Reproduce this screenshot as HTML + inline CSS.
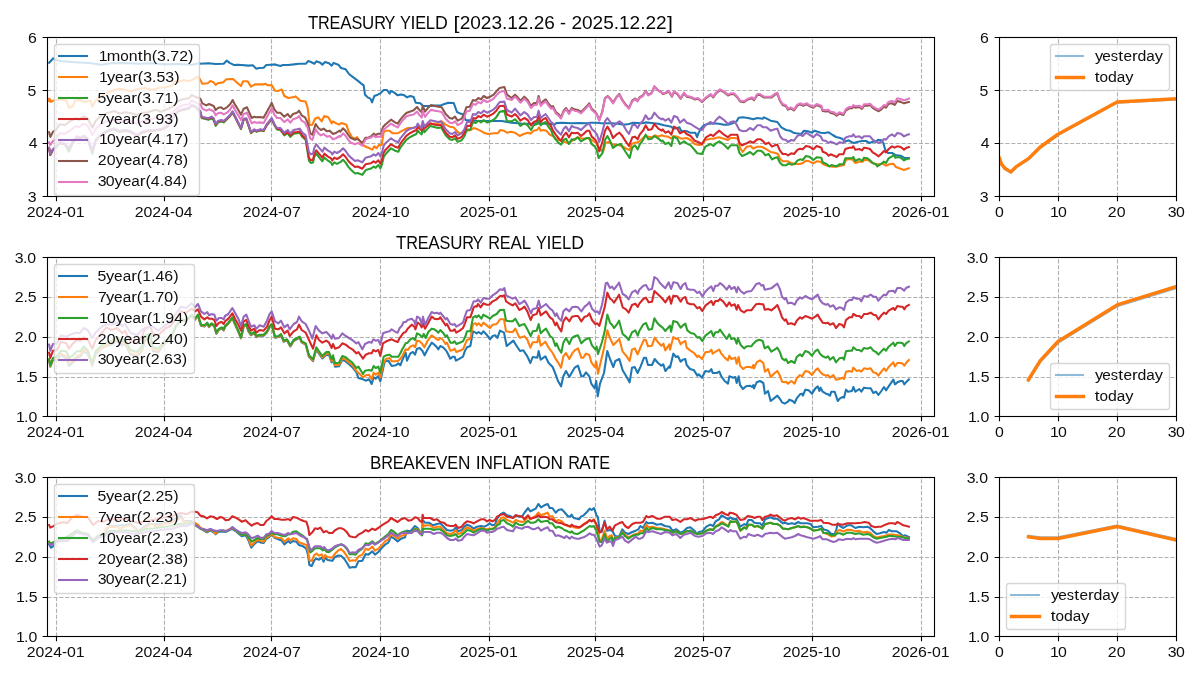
<!DOCTYPE html>
<html><head><meta charset="utf-8"><title>Treasury Yield</title>
<style>html,body{margin:0;padding:0;background:#fff}svg{display:block}</style></head>
<body>
<svg width="1200" height="675" viewBox="0 0 1200 675" font-family='"Liberation Sans", sans-serif' fill="#000">
<rect width="1200" height="675" fill="#fff"/>
<defs>
<clipPath id="cm0"><rect x="47.5" y="37.5" width="887.0" height="159.0"/></clipPath>
<clipPath id="cr0"><rect x="999.5" y="37.5" width="177.0" height="159.0"/></clipPath>
<clipPath id="cm1"><rect x="47.5" y="257.5" width="887.0" height="159.0"/></clipPath>
<clipPath id="cr1"><rect x="999.5" y="257.5" width="177.0" height="159.0"/></clipPath>
<clipPath id="cm2"><rect x="47.5" y="477.5" width="887.0" height="159.0"/></clipPath>
<clipPath id="cr2"><rect x="999.5" y="477.5" width="177.0" height="159.0"/></clipPath>
<filter id="ga" filterUnits="userSpaceOnUse" x="0" y="0" width="1200" height="675"><feOffset dx="0" dy="0"/></filter>
</defs>
<g id="main0">
<path d="M56.5 196.5V37.5M164.5 196.5V37.5M271.5 196.5V37.5M380.5 196.5V37.5M489.5 196.5V37.5M595.5 196.5V37.5M703.5 196.5V37.5M812.5 196.5V37.5M921.5 196.5V37.5M47.5 196.5H934.5M47.5 143.5H934.5M47.5 90.5H934.5M47.5 37.5H934.5" stroke="#b0b0b0" stroke-width="1.11" stroke-dasharray="4.1111 1.7778" fill="none"/>
<g clip-path="url(#cm0)" fill="none" stroke-linejoin="round" stroke-linecap="square">
<path d="M49.13 62.67 L53.27 58.27 L55.67 60 L61 60.93 L71.67 62 L85 62.67 L91.67 63.33 L101 64.67 L111.67 63.33 L125 63.07 L138.33 63.73 L151.67 63.33 L165 64.4 L178.33 64 L191.67 64.67 L199.67 63.33 L200.33 63.73 L208.33 63.33 L215.67 64 L223.67 63.73 L226.6 60.67 L229.67 62.93 L233.67 64.93 L237.67 64.67 L241.67 65.07 L248.33 65.6 L253 65.33 L256.07 68.67 L259 68 L263.67 67.73 L266.33 65.07 L271.67 64.67 L275 64.4 L280.33 66 L283 65.07 L288.33 64.93 L293.67 64.4 L299 63.73 L305.67 63.73 L308.33 61.07 L311 62 L314.33 63.73 L316.33 61.33 L320.33 62.67 L322.33 64.67 L325 62 L329 63.33 L331.67 65.6 L333.67 62.93 L338.33 64.67 L341 68 L345.67 69.33 L349 74 L352.33 76.67 L355 78.67 L357.67 80.67 L361 83.33 L363.67 85.33 L365 94.67 L367.67 97.33 L370.33 98.67 L372.07 102.4 L374.33 96 L377.67 94.67 L380.33 93.33 L383.67 90 L387 90 L389.67 93.6 L391 90.93 L394.33 92.67 L397.67 95.33 L401 94.4 L403.67 94.93 L407 97.33 L410.33 96 L413.67 97.07 L415.67 102.67 L420.33 103.33 L423 106 L429.67 106 L435 105.6 L440.33 105.6 L443.67 104.27 L448.33 102.67 L453.67 102.93 L457 112 L460.33 113.6 L463 114.4 L465.67 120 L471 120.27 L475 120.67 L488.33 121.07 L501.67 121.07 L511.67 122.67 L518.33 123.33 L522.33 123.73 L531.67 123.73 L537 123.33 L545 123.73 L551.67 124 L554.33 124.67 L556.33 122.93 L562.33 122.67 L571.67 123.33 L579.67 123.07 L587.67 123.33 L590.33 122.67 L597 122.67 L601 123.33 L611.67 123.33 L618.33 123.73 L623.67 124.67 L629 124 L633 122.67 L638.33 122.93 L642.33 123.33 L645.67 122.4 L651.67 122.93 L658.33 123.73 L664 125.33 L668 126 L671.33 126.67 L673.33 128.67 L677.33 128 L679.33 127.33 L681.33 131.33 L684.67 130.93 L687.33 131.33 L690 132.67 L695.33 132.67 L697.07 137.07 L698.67 132.67 L701.33 128 L704 125.33 L708 124 L713.33 123.33 L718.67 123.73 L724 124.67 L728 124.67 L733.33 122.93 L736.67 121.33 L738.67 117.73 L742.67 117.33 L748 118 L753.33 119.33 L757.33 118 L762.67 118.67 L764 117.33 L766.67 118.67 L770.67 120.67 L777.33 122 L781.33 127.33 L786 130 L790 130.67 L793.33 132.67 L796 133.33 L801.33 134 L804 130.67 L808 131.33 L812 132.67 L814.67 130.67 L820.67 132.73 L824.67 133 L828.67 132.33 L832.67 135 L836 137 L839.33 137.67 L842.67 139 L844.67 141.67 L848.67 140.33 L852 142.33 L854 143 L858 141.67 L862 141 L866 141 L869.33 143 L872.67 141.67 L876 141.67 L878 139.67 L881.33 140.33 L883.33 143 L885.33 150.33 L888 153 L892 153 L895.33 155 L900.67 155.67 L904.67 158.07 L908.88 158.07" stroke="#1f77b4" stroke-width="2.08"/>
<path d="M49.13 98.67 L49.13 101.33 L50.07 99.33 L51 102 L53 100.67 L57 100 L61 99.33 L66.33 100.67 L69 108 L73 106 L75 100.67 L79.67 100 L85 102 L90.33 100.67 L92.33 106.67 L95.67 100.67 L101 96.67 L107.67 92.67 L114.33 90 L119.67 88.67 L125 90 L131.67 91.33 L138.33 88.67 L145 88 L151.67 90 L158.33 88 L165 87.33 L171.67 86 L175 81.33 L178.33 82 L183.67 80 L189 81.33 L194.33 78.67 L197.67 76.67 L199.67 78.67 L200.33 80 L202.33 83.73 L207.67 83.33 L210.33 81.07 L213.67 82.4 L215.67 84.93 L218.33 82.93 L223 82.4 L226.33 79.33 L233 79.07 L236.33 82 L241 86 L243 81.33 L247.67 81.33 L251 86.67 L255 84.4 L263 84.4 L265.67 83.73 L267.67 85.33 L271.67 85.07 L275 90.67 L278.33 90.93 L281.67 89.33 L284.33 96 L288.33 98 L292.33 97.33 L295.67 96.4 L300.33 100.67 L305.67 101.6 L307.67 108 L309.67 125.07 L312.33 124.67 L315 118.67 L318.33 117.33 L321.67 121.33 L324.33 116 L328.33 117.33 L331.67 123.33 L333 121.33 L336.33 123.33 L339 124.67 L341.67 122.93 L346.33 124.67 L348.33 130.67 L352.33 137.67 L355 138.33 L357 137 L359.67 141 L363 145 L366.33 147 L369.67 148.33 L372.33 149.67 L374.33 146.33 L376.33 148.33 L379 145 L381.67 145 L383.67 132 L386.33 130.67 L389.67 130.67 L392.33 133.33 L397.67 133.33 L401 131.33 L405 129.33 L408.33 128 L413.67 127.73 L417 126.67 L421.67 126.67 L427 124.67 L432.33 124 L437.67 123.33 L441.67 121.33 L445.67 124.67 L449.67 126.67 L453.67 127.33 L457.67 132 L460.33 133.33 L463.67 132 L466.33 130.67 L471 130 L473.67 128 L477.67 129.33 L481.67 131.33 L485 133.33 L488.33 134 L493.67 133.33 L497.67 133.33 L500.33 130 L503.67 130.67 L507 132.67 L511 131.73 L515 132.67 L519.67 136 L523.67 134 L527.67 132.67 L530.33 133.6 L533.67 130.67 L537 130 L539 127.33 L540.73 130.67 L543.67 130 L546.33 130.67 L549.67 134.67 L553 136 L555.67 138.67 L561 140.67 L565 142 L569 143.33 L573 140 L577.67 137.33 L582.33 138.67 L587.67 138 L591.67 140 L595.67 142.67 L599.27 148 L603 152 L605.67 142.67 L608.33 142 L613 144.67 L616.33 144.67 L619.67 145.33 L623 146.67 L626.33 148.67 L629.67 150 L631.67 144 L635 142.67 L638.33 142 L641 140 L645 136 L648.33 136.67 L651.67 137.33 L655 135.33 L658.33 136.67 L661.67 135.33 L664 136 L668 136.67 L671.33 138.67 L673.33 136 L677.33 136.67 L681.33 138.67 L686.67 138 L690.67 140 L694.67 144 L698.67 145.07 L702 144.67 L705.33 140 L710.67 138.67 L713.33 138.67 L718.67 137.33 L724 138.67 L728 140 L730.67 138 L734.67 138 L738 138.67 L740 148 L742.67 152 L746.67 146.67 L750.67 146 L753.33 148.67 L757.33 146.67 L761.33 146.67 L764 148 L766.67 149.33 L770.67 152 L774.67 152.67 L778 154 L780 158.67 L782.67 161.33 L788 161.33 L792 163.33 L796 164 L800 164 L803.33 162.67 L806 160.67 L809.33 161.33 L813.33 163.33 L816.67 161.33 L820.67 161.67 L823.33 164.33 L827.33 165.67 L831.33 166.6 L836.67 166.6 L840.67 165.67 L844 165 L846 159.67 L850 159 L852.67 159.67 L855.33 163 L859.33 161.67 L862.67 161.67 L864.67 159.67 L868.67 160.33 L871.33 162.33 L875.33 164.33 L879.33 164.33 L882.67 163.67 L886 165.67 L889.33 164.33 L893.33 163.67 L896 167 L899.33 168.33 L904 170.07 L906.67 169 L908.88 168.33" stroke="#ff7f0e" stroke-width="2.08"/>
<path d="M49.13 148.39 L50.33 155.09 L53 149.81 L55.67 147.85 L59.67 143.26 L65 144.69 L69 151.67 L73 142.07 L77 137.4 L80.33 138.73 L83.67 136.73 L87.67 139.4 L92.33 153.67 L95.67 140.73 L101 135.38 L107.67 131.37 L114.33 129.35 L119.67 132.01 L125 130.66 L130.33 131.98 L137 135.96 L142.33 132.62 L147.67 131.27 L155.67 130.59 L161 129.91 L167.67 126.56 L173 117.88 L178.33 111.2 L183.67 109.85 L189 108.51 L191.67 105.83 L195.67 107.16 L199.67 111.15 L200.33 112.61 L201.67 118 L208.33 119.87 L211.67 118.4 L213.67 120.08 L215.67 125.83 L218.33 122.33 L221.67 121.47 L223.67 122.41 L227 119.15 L230.33 115.73 L232.6 112.4 L235 117.07 L238.33 123.73 L241 129.07 L243.67 119.73 L246.33 119.33 L251 133.07 L254.33 130.4 L256.33 131.73 L260.33 130.4 L263.67 131.07 L267 125.07 L269.67 121.73 L271.67 119.07 L274.33 125.07 L277 129.41 L280.33 129.97 L284.33 135.32 L287.67 133.22 L290.33 136.8 L293.67 133.69 L297 133.24 L299.67 132.76 L302.33 136.93 L305.67 139.82 L309 160.78 L311 163 L313 162.5 L314.33 156.62 L316.33 153.46 L319 157.02 L322.33 161.3 L324.33 157.48 L327.67 160.43 L331 162.71 L332.33 164.83 L334.33 162.33 L337 163.9 L340.33 162.18 L343 159.74 L345.67 162.64 L348.33 166.87 L351 169.76 L355 173.44 L357.67 173 L362.33 174.86 L365.67 170.1 L368.33 169.35 L371 168.61 L373.67 166.53 L375.67 167.8 L378.33 165.06 L380.33 168.33 L381.67 165.42 L383.67 157.04 L385.67 154 L391 148.33 L395 150.69 L398.33 151.77 L400.33 147.62 L403.67 143.36 L406.33 139.82 L409.67 137.4 L413.67 135.27 L416.33 134.07 L417.67 130.47 L419.67 132.73 L421.67 134.33 L422.73 126.95 L424.33 132.2 L427 129.4 L430.33 125.9 L435 127.33 L438.33 128 L441 127.33 L445.67 135.33 L449.67 139.33 L452.33 140 L455 138.26 L457.67 141.85 L461.67 140.24 L464.33 136.49 L467 129.42 L470.33 129.74 L473 122 L475.67 123.01 L478.33 120.7 L481 122.38 L483.67 120.06 L487 122.49 L490.33 121.46 L493.67 119.67 L496.33 117.17 L499.67 111.87 L504.33 110.67 L507 121.33 L511.67 121.33 L515 119.33 L517.67 122 L520.33 126 L524.33 123.33 L527.67 125.33 L531 130 L533.67 125.33 L537 124 L538.6 120.67 L540.73 125.33 L543 123.33 L545.67 122 L548.33 126.67 L551 130 L553 135.33 L555.67 139.33 L558.33 142.67 L561 144.67 L563.67 140 L566.07 138.67 L569 144 L571.67 139.33 L574.33 140 L577.67 137.33 L581 141.33 L584.33 139.33 L587 138 L589.27 138 L591.67 144 L595 146.67 L597 150.67 L598.6 158 L602.33 153.33 L605 140 L607.4 136 L610.33 141.33 L613 148 L616.33 145.33 L621 144 L622.33 146.67 L625.67 152 L629.67 158 L632.33 147.33 L635 145.33 L637.67 149.33 L639.67 144.67 L643 140 L645.67 134.67 L648.33 139.33 L651.67 138.67 L654.33 136 L658.33 138.67 L661.67 141.33 L662.67 140.67 L665.33 144 L668.67 142.67 L671.33 146 L673.33 136.67 L677.33 138.67 L680 144 L684 141.33 L686.67 143.33 L690.67 145.33 L694.67 150 L697.33 153.33 L702 154 L705.33 146.67 L710.67 144 L713.33 146 L716 143.33 L719.33 141.33 L724 144.67 L728 148.67 L730.67 145.33 L734 145.33 L737.33 145.33 L739.33 152.67 L742 156 L746.67 154 L750 152 L753.33 154.67 L757.33 150.67 L760.67 150.67 L763.33 152.67 L765.33 155.33 L768.67 154 L772 159.33 L774.67 158 L777.33 157.33 L780 162.67 L782.67 165.33 L786 165.33 L788.67 163.33 L791.33 164.67 L794.67 164 L797.33 160.67 L800 159.33 L802.67 160 L806 156 L809.33 156.67 L813.33 160 L816.67 157.33 L821.33 157.67 L822.67 162.33 L826 163.67 L829.33 166.33 L831.33 165 L834 165.67 L836.67 166.33 L839.33 164.33 L843.33 164.33 L845.33 158.33 L849.33 158.33 L852 158.33 L853.33 157 L855.33 161 L859.33 159 L862 161 L864 157.67 L867.33 158.33 L870 160.33 L872.67 163 L876 164.33 L877.33 166.33 L881.33 163.67 L884 161.67 L886 163 L888.67 158.33 L892 156.33 L894 155 L895.33 157.67 L898 157 L900.67 157.67 L904 160.33 L906.67 159 L908.88 158.6" stroke="#2ca02c" stroke-width="2.08"/>
<path d="M49.13 148.2 L50.33 154.87 L53 149.53 L55.67 147.53 L59.67 142.87 L65 144.2 L69 148.2 L73 141.53 L77 136.87 L80.33 138.2 L83.67 136.2 L87.67 138.87 L92.33 150.87 L95.67 140.2 L101 134.87 L107.67 130.87 L114.33 128.87 L119.67 131.53 L125 130.2 L130.33 131.53 L137 135.53 L142.33 132.2 L147.67 130.87 L155.67 130.2 L161 129.53 L167.67 126.2 L173 117.53 L178.33 110.87 L183.67 109.53 L189 108.2 L191.67 105.53 L195.67 106.87 L199.67 110.87 L200.33 111.87 L201.67 117.2 L208.33 118.8 L211.67 117.2 L213.67 118.8 L215.67 124.53 L218.33 121.2 L221.67 120.53 L223.67 121.6 L227 118.53 L230.33 115.2 L232.6 111.87 L235 116.53 L238.33 123.2 L241 128.53 L243.67 119.2 L246.33 118.8 L251 132.53 L254.33 129.87 L256.33 131.2 L260.33 129.87 L263.67 130.53 L267 124.53 L269.67 121.2 L271.67 118.53 L274.33 124.53 L277 128.75 L280.33 129.12 L284.33 134.23 L287.67 131.93 L290.33 135.47 L293.67 132.36 L297 131.91 L299.67 131.42 L302.33 135.6 L305.67 138.49 L309 158.19 L311 160.33 L313 159.67 L314.33 153.67 L316.33 150.33 L319 153.67 L322.33 157.67 L324.33 153.67 L327.67 156.33 L331 158.33 L332.33 160.33 L334.33 157.67 L337 159 L340.33 157 L343 154.33 L345.67 157 L348.33 161 L351 163.67 L355 167 L357.67 166.47 L362.33 168.72 L365.67 164.23 L368.33 163.7 L371 163.18 L373.67 161.32 L375.67 162.75 L378.33 160.23 L380.33 163.67 L381.67 160.83 L383.67 152.58 L385.67 149.67 L391 144.33 L395 146.69 L398.33 147.77 L400.33 143.62 L403.67 139.36 L406.33 135.82 L409.67 133.4 L413.67 131.27 L416.33 130.07 L417.67 126.47 L419.67 128.73 L421.67 130.33 L422.73 123.11 L424.33 128.6 L427 126.2 L430.33 123.2 L435 124.67 L438.33 125.33 L441 124.67 L445.67 132.67 L449.67 136.67 L452.33 137.33 L455 135.42 L457.67 138.84 L461.67 136.97 L464.33 133.05 L467 125.81 L470.33 125.91 L473 118 L475.67 118.67 L478.33 116 L481 117.33 L483.67 114.67 L487 116.67 L490.33 115.33 L493.67 113.33 L496.33 110.67 L499.67 106 L504.33 105.87 L507 114.53 L511.67 116.67 L515 114 L517.67 116.67 L520.33 120.67 L524.33 118 L527.67 120 L531 125.33 L533.67 122 L537 120.67 L538.6 116 L540.73 122 L543 119.33 L545.67 118 L548.33 122.67 L551 126 L553 130.67 L555.67 134.67 L558.33 138 L561 140.67 L563.67 135.33 L566.07 132.67 L569 137.33 L571.67 132.67 L574.33 133.33 L577.67 132.67 L581 136 L584.33 133.33 L587 130.67 L589.27 130.67 L591.67 136.67 L595 139.33 L597 142.67 L599.27 151.33 L602.33 142 L605 130.67 L607.4 126.67 L610.33 131.33 L613 138 L616.33 134.67 L619.4 132.67 L622.33 136 L625.67 141.33 L629 146 L632.33 137.33 L635 136.67 L637.67 139.33 L639.67 134.67 L643 130.67 L645.67 125.33 L648.33 130 L651.67 129.33 L654.33 124 L658.33 128.67 L661.67 130.67 L662.67 129.33 L665.33 132.67 L668.67 131.33 L671.33 134.67 L674 126.67 L677.33 128.67 L680 133.33 L684 131.33 L686.67 134 L690.67 136 L694.67 140.67 L698 142 L702 144 L706 137.33 L710.67 134.67 L713.33 136 L716 133.33 L719.33 130.67 L724 134.67 L728 137.33 L730.67 134.67 L734 134.67 L737.33 134.67 L739.33 142.67 L742 145.33 L746.67 143.33 L750 141.33 L753.33 142.67 L757.33 139.33 L760.67 139.33 L763.33 141.33 L765.33 144 L768.67 142.67 L772 146.67 L774.67 145.33 L777.33 144.67 L780 150.67 L782.67 154 L786 154 L788 155.33 L791.33 153.33 L794 154 L797.33 150 L800 148.67 L802.67 149.33 L806 146 L809.33 146.67 L813.33 149.33 L816.67 146 L821.33 147.67 L822.67 151.67 L826 153 L828.67 155.67 L830.67 154.33 L834 155.67 L836.67 157 L839.33 154.33 L843.33 154.33 L845.33 149 L849.33 147.67 L852 147.67 L853.33 146.33 L855.33 149.67 L859.33 149 L862 150.33 L864 147.67 L867.33 148.33 L870 149 L872.67 152.33 L876 154.33 L878.67 156.33 L881.33 153.67 L884 151 L886 152.33 L888.67 149 L892 146.33 L894.67 147.67 L897.33 146.33 L900.67 147 L904 149.67 L906.67 147.67 L908.88 147" stroke="#d62728" stroke-width="2.08"/>
<path d="M49.13 147.67 L50.33 154.33 L53 149 L55.67 147 L59.67 142.33 L65 143.67 L69 147.67 L73 141 L77 136.33 L80.33 137.67 L83.67 135.67 L87.67 138.33 L92.33 150.33 L95.67 139.67 L101 134.33 L107.67 130.33 L114.33 128.33 L119.67 131 L125 129.67 L130.33 131 L137 135 L142.33 131.67 L147.67 130.33 L155.67 129.67 L161 129 L167.67 125.67 L173 117 L178.33 110.33 L183.67 109 L189 107.67 L191.67 105 L195.67 106.33 L199.67 110.33 L200.33 111.33 L201.67 116.67 L208.33 118.27 L211.67 116.67 L213.67 118.27 L215.67 124 L218.33 120.67 L221.67 120 L223.67 121.07 L227 118 L230.33 114.67 L232.6 111.33 L235 116 L238.33 122.67 L241 128 L243.67 118.67 L246.33 118.27 L251 132 L254.33 129.33 L256.33 130.67 L260.33 129.33 L263.67 130 L267 124 L269.67 120.67 L271.67 118 L274.33 124 L277 128 L280.33 128 L284.33 132.67 L287.67 130 L290.33 133.33 L293.67 130 L297 129.33 L299.67 128.67 L302.33 132.67 L305.67 135.33 L309 152.33 L311 154.33 L313 153.67 L314.33 147.67 L316.33 144.33 L319 147.67 L322.33 151.67 L324.33 147.67 L327.67 150.33 L331 152.33 L332.33 154.33 L334.33 151.67 L337 153 L340.33 151 L343 148.33 L345.67 151 L348.33 155 L351 157.67 L355 161 L357.67 160.33 L362.33 162.33 L365.67 157.67 L368.33 157 L371 156.33 L373.67 154.33 L375.67 155.67 L378.33 153 L380.33 156.33 L381.67 153.67 L383.67 145.67 L385.67 143 L391 138.33 L395 141 L398.33 142.33 L400.33 138.33 L403.67 134.33 L406.33 131 L409.67 129 L413.67 127.67 L416.33 127 L417.67 123.67 L419.67 126.33 L421.67 128.33 L422.73 121 L424.33 126.33 L427 123.67 L430.33 120.33 L435 121.33 L438.33 122 L441 121.33 L445.67 129.33 L449.67 133.33 L452.33 134 L455 132 L457.67 135.33 L461.67 133.33 L464.33 129.33 L467 122 L470.33 122 L473 114 L475.67 114.67 L478.33 112 L481 113.33 L483.67 110.67 L487 112.67 L490.33 111.33 L493.67 109.33 L496.33 106.67 L499.67 102 L504.33 101.6 L507 110 L511.67 112.67 L515 108.67 L517.67 112 L520.33 115.33 L524.33 112 L527.67 114.67 L531 120 L533.67 117.33 L537 116.67 L538.6 110.67 L540.73 118 L543 116 L545.67 114 L548.33 118 L551 122 L553 123.33 L555.67 129.33 L558.33 132 L561 134.67 L563.67 128.67 L566.07 126.67 L569 131.33 L571.67 126 L574.33 127.33 L577.67 128 L581 130 L584.33 126.67 L587 124.67 L589.27 123.33 L591.67 128.67 L595 132 L597 134.67 L599.27 142 L602.33 132 L605 121.33 L607.4 118 L610.33 122 L613 126.67 L616.33 123.33 L619.4 121.33 L622.33 123.33 L625.67 129.33 L629 134 L632.33 125.33 L635 124.67 L637.67 128 L639.67 124 L643 120.67 L645.67 115.33 L648.33 119.33 L651.67 118 L654.33 112.67 L658.33 117.33 L661.67 119.33 L662.67 118.67 L665.33 120.67 L668.67 118.67 L671.33 122.67 L674 116 L677.33 117.33 L680 122.67 L684 119.33 L686.67 122.67 L690.67 124 L694.67 126.67 L698 128.67 L702 130 L706 124.67 L710.67 122 L713.33 124 L716 120 L719.33 116.67 L724 120 L728 124 L730.67 122 L734 121.33 L736.67 124.67 L739.33 130 L743.33 131.33 L746.67 130.67 L750 128 L753.33 130 L757.33 125.33 L760.67 125.33 L763.33 127.33 L766.67 127.33 L770.67 130.67 L774.67 129.33 L777.33 128.67 L780 136 L782.67 139.33 L786 140 L788 142 L791.33 140 L794 140.67 L797.33 136 L800 134.67 L802.67 136 L806 132.67 L809.33 134.67 L813.33 137.33 L816.67 134 L820.67 136.33 L822.67 140.33 L826 141 L828.67 143 L830.67 141.67 L834 143 L836.67 144.33 L839.33 142.33 L843.33 143 L845.33 137.67 L849.33 136.33 L852 136.33 L853.33 134.33 L855.33 137 L859.33 136.33 L862 138.33 L864 136.33 L867.33 136.33 L870 136.33 L872.67 139.67 L876 141.67 L878.67 143 L881.33 141.67 L884 139 L886 139.67 L888.67 136.33 L892 134.33 L894.67 136.33 L897.33 133 L900.67 133.67 L904 136.33 L906.67 135 L908.88 134.33" stroke="#9467bd" stroke-width="2.08"/>
<path d="M49.13 132.33 L50.33 137 L53 131.67 L55.67 130.33 L59.67 124.33 L65 125 L70.33 121 L75.67 118.33 L79.67 119.67 L83.67 116.33 L87.67 118.33 L92.33 127.67 L95.67 121 L101 115.67 L107.67 113 L114.33 111 L119.67 113.67 L125 112.33 L130.33 113 L137 115 L142.33 113 L147.67 112.33 L155.67 109.67 L161 111.67 L167.67 109 L173 106.33 L178.33 101 L183.67 99 L189 98.33 L191.67 95 L195.67 97 L199.67 98.33 L200.33 98.67 L202.33 103.33 L206.33 105.33 L209 104 L213.67 106 L215.67 110 L218.33 107.73 L221 107.33 L223.67 109.07 L227 107.33 L230.33 104 L232.6 100 L235 104.67 L238.33 110 L241 114.67 L243.67 108.67 L247 107.33 L251.67 118 L254.33 116.67 L256.33 117.33 L259.67 117.07 L263.67 117.6 L266.33 112.67 L269.67 106.67 L271.67 102.93 L274.33 109.33 L277 112.67 L280.33 112.67 L284.33 116.67 L287.67 114 L290.33 117.33 L293 114 L297 112.67 L299 110.67 L301.67 115.33 L305 117.33 L307.67 122.67 L310.33 133.33 L312.33 134.67 L315.67 124 L318.33 128 L321 130 L323.67 128.67 L327 131.33 L329.67 130.67 L333 134 L336.33 132.67 L339.67 130.67 L340.33 131.67 L343 128.33 L345.67 131 L348.33 135 L350.33 137.67 L355 139.67 L357.67 139 L362.33 143 L365.67 137.67 L368.33 137.67 L371 136.33 L373.67 133.67 L375.67 135 L378.33 133.67 L381 133.67 L383 127 L385.67 124.33 L391 119.67 L395 122.33 L397.67 123.67 L400.33 119.67 L403.67 115.67 L406.33 113 L409.67 111.67 L413.67 110.33 L417 107 L419.67 110.33 L421.67 112.33 L422.73 105.67 L425 111.67 L427.67 108.33 L431 105 L435 106 L438.33 106.67 L441.67 107.33 L445.67 114 L449.67 118 L452.33 118.67 L455 116.67 L457.67 120.67 L461.67 118.67 L464.33 113.33 L466.33 107.33 L469.67 106.67 L473 100 L475.67 100.67 L478.33 98 L481 99.33 L483.67 96 L487 98 L490.33 96.67 L493.67 94.67 L496.33 91.33 L499.67 88 L504.33 86.93 L507 94.67 L511.67 98 L515 94.67 L517.67 97.33 L520.33 100.67 L524.33 96.67 L527.67 100 L531 106 L533.67 103.33 L537 102.67 L538.6 96 L540.73 104 L543 101.33 L545.67 99.33 L548.33 103.33 L551 106.67 L553 106.13 L555.67 111.73 L558.33 114 L561 117.33 L563.67 110.67 L566.07 108 L569 112.67 L571.67 108 L574.33 109.33 L577.67 110 L581 112 L584.33 108.67 L587 106 L589.27 103.33 L591.67 108.67 L595 111.67 L597 114.53 L599.27 120 L602.33 111.32 L605 97.98 L607.67 95.97 L610.33 98.63 L613 102.62 L616.33 97.27 L619.4 93.93 L622.33 99.92 L625.67 104.58 L629 107.9 L632.33 100.55 L635 98.54 L637.67 100.54 L639.67 97.24 L643 95.34 L645.67 90.75 L648.33 94.83 L651.67 92.93 L654.33 86.35 L658.33 90.47 L661.67 92.57 L662.67 94 L665.33 93.34 L668.67 91.35 L672 96.69 L674 92.02 L677.33 94.03 L680.67 98.7 L684 93.37 L686.67 96.71 L690.67 97.38 L694.67 99.39 L698 98.73 L702 102.07 L706 98.08 L710.67 94.75 L713.33 97.42 L716 93.43 L720 90.1 L724 92.11 L728 95.45 L730.67 94.12 L734 94.12 L737.33 97.46 L740 101.47 L744 102.15 L748 99.49 L752 98.17 L754 100.18 L757.33 94.86 L760 94.87 L764 97.55 L768 97.56 L771.33 97.57 L774.67 94.92 L777.33 93.59 L780 100.93 L782.67 104.94 L786 106.29 L788 109.63 L790.67 108.3 L794 110.31 L797.33 105.66 L800 104.33 L803.33 105.68 L806.67 104.36 L810 106.37 L813.33 107.71 L816.67 105.06 L821.33 106.92 L822.67 110.92 L826 111.59 L828 110.93 L830.67 112.93 L834 113.61 L836.67 115.61 L839.33 113.62 L843.33 114.96 L846 110.29 L849.33 108.3 L852 108.3 L853.33 106.31 L855.33 107.64 L859.33 106.98 L862 108.99 L864 105.66 L867.33 105.66 L870 105 L872.67 107.75 L876 109.85 L878.67 111.26 L881.33 109.34 L884 106.78 L886 107.59 L888.67 103.77 L892 103.34 L894.67 104.86 L897.33 101.03 L900.67 101.87 L904 103.37 L906.67 102.58 L908.88 101.93" stroke="#8c564b" stroke-width="2.08"/>
<path d="M49.13 142.33 L50.33 145 L53 141 L55.67 139.67 L59.67 133 L65 133.67 L70.33 130.33 L75.67 126.33 L79.67 127 L83.67 123.67 L87.67 125.67 L92.33 135 L95.67 129 L101 123.67 L107.67 121 L114.33 119.67 L119.67 121.67 L125 120.33 L130.33 121.67 L137 123.67 L142.33 121 L147.67 120.33 L155.67 117.67 L161 119 L167.67 116.33 L173 112.33 L178.33 107 L183.67 105 L189 104.33 L191.67 100.33 L195.67 102.33 L199.67 105 L200.33 104 L202.33 108.67 L206.33 110.67 L209 109.33 L213.67 111.33 L215.67 115.33 L218.33 113.07 L221 112.67 L223.67 114.4 L227 112.67 L230.33 109.33 L232.6 105.33 L235 110 L238.33 115.33 L241 120 L243.67 114 L247 112.67 L251.67 123.33 L254.33 122 L256.33 122.67 L259.67 122.4 L263.67 122.93 L266.33 118 L269.67 112 L271.67 108.27 L274.33 114.67 L277 118 L280.33 118 L284.33 122 L287.67 119.33 L290.33 122.67 L293 119.33 L297 118 L299 116 L301.67 120.67 L305 122.67 L307.67 128 L310.33 138.67 L312.33 140 L315.67 129.33 L318.33 133.33 L321 135.33 L323.67 134 L327 136.67 L329.67 136 L333 139.33 L336.33 138 L339.67 136 L340.33 136.78 L343 133.36 L345.67 135.95 L348.33 139.87 L350.33 142.47 L355 144.33 L357.67 142.94 L362.33 145.67 L365.67 139.22 L368.33 138.33 L371 137.59 L373.67 135.52 L375.67 137.3 L378.33 136.56 L381 137.04 L383 130.5 L385.67 128 L391 123.67 L395 126.18 L397.67 127.41 L400.33 123.31 L403.67 119.18 L406.33 116.41 L409.67 115.2 L413.67 114.47 L417 111.63 L419.67 115.37 L421.67 117.67 L422.73 110.95 L425 116.83 L427.67 113.37 L431 109.87 L435 110.67 L438.33 111.33 L441.67 112 L445.67 118.67 L449.67 122.67 L452.33 123.33 L455 121.25 L457.67 125.16 L461.67 123.03 L464.33 117.61 L466.33 111.55 L469.67 110.77 L473 104 L475.67 104.67 L478.33 102 L481 103.33 L483.67 100 L487 102 L490.33 100.67 L493.67 98.67 L496.33 95.33 L499.67 92 L504.33 90.93 L507 98.67 L511.67 100 L515 96.67 L517.67 99.33 L520.33 102.67 L524.33 98.67 L527.67 102 L531 108 L533.67 105.33 L537 104.67 L538.6 98 L540.73 106 L543 103.33 L545.67 101.33 L548.33 105.33 L551 108.67 L553 108 L555.67 113.33 L558.33 115.33 L561 118.67 L563.67 112 L566.07 109.33 L569 114 L571.67 109.33 L574.33 110.67 L577.67 111.33 L581 113.33 L584.33 110 L587 107.33 L589.27 104.67 L591.67 110 L595 112.67 L597 115.33 L599.27 120.67 L602.33 112 L605 98.67 L607.67 96.67 L610.33 99.33 L613 103.33 L616.33 98 L619.4 94.67 L622.33 100.67 L625.67 105.33 L629 108.67 L632.33 101.33 L635 99.33 L637.67 101.33 L639.67 98 L643 96 L645.67 91.33 L648.33 95.33 L651.67 93.33 L654.33 86.67 L658.33 90.67 L661.67 92.67 L662.67 93.33 L665.33 92.67 L668.67 90.67 L672 96 L674 91.33 L677.33 93.33 L680.67 98 L684 92.67 L686.67 96 L690.67 96.67 L694.67 98.67 L698 98 L702 101.33 L706 97.33 L710.67 94 L713.33 96.67 L716 92.67 L720 89.33 L724 91.33 L728 94.67 L730.67 93.33 L734 93.33 L737.33 96.67 L740 100.67 L744 101.33 L748 98.67 L752 97.33 L754 99.33 L757.33 94 L760 94 L764 96.67 L768 96.67 L771.33 96.67 L774.67 94 L777.33 92.67 L780 100 L782.67 104 L786 105.33 L788 108.67 L790.67 107.33 L794 109.33 L797.33 104.67 L800 103.33 L803.33 104.67 L806.67 103.33 L810 105.33 L813.33 106.67 L816.67 104 L821.33 105.67 L822.67 109.67 L826 110.33 L828 109.67 L830.67 111.67 L834 112.33 L836.67 114.33 L839.33 112.33 L843.33 113.67 L846 109 L849.33 107 L852 107 L853.33 105 L855.33 106.33 L859.33 105.67 L862 107.67 L864 104.33 L867.33 104.33 L870 103.67 L872.67 106.33 L876 108.33 L878.67 109.67 L881.33 107.67 L884 105 L886 105.67 L888.67 101.67 L892 101 L894.67 102.33 L897.33 98.33 L900.67 99 L904 100.33 L906.67 99.4 L908.88 98.6" stroke="#e377c2" stroke-width="2.08"/>
</g>
<path d="M56.5 196.5v4.86M164.5 196.5v4.86M271.5 196.5v4.86M380.5 196.5v4.86M489.5 196.5v4.86M595.5 196.5v4.86M703.5 196.5v4.86M812.5 196.5v4.86M921.5 196.5v4.86M47.5 196.5h-4.86M47.5 143.5h-4.86M47.5 90.5h-4.86M47.5 37.5h-4.86" stroke="#000" stroke-width="1.11" fill="none"/>
<rect x="47.5" y="37.5" width="887.0" height="159.0" stroke="#000" stroke-width="1.11" fill="none"/>
</g>
<g id="right0">
<path d="M999.5 196.5V37.5M1058.5 196.5V37.5M1117.5 196.5V37.5M1176.5 196.5V37.5M999.5 196.5H1176.5M999.5 143.5H1176.5M999.5 90.5H1176.5M999.5 37.5H1176.5" stroke="#b0b0b0" stroke-width="1.11" stroke-dasharray="4.1111 1.7778" fill="none"/>
<g clip-path="url(#cr0)" fill="none" stroke-linejoin="round" stroke-linecap="square">
<path d="M999.39 158.91 L999.88 159.97 L1000.38 162.09 L1001.86 165.28 L1004.81 168.99 L1010.72 172.7 L1016.63 167.13 L1028.45 159.44 L1040.27 147.77 L1058 135.05 L1117.1 102.7 L1176.2 99.51" stroke="#1f77b4" stroke-opacity="0.5" stroke-width="2.08"/>
<path d="M999.39 158.12 L999.88 159.18 L1000.38 161.3 L1001.86 164.48 L1004.81 168.19 L1010.72 171.9 L1016.63 166.34 L1028.45 158.65 L1040.27 146.98 L1058 134.25 L1117.1 101.9 L1176.2 98.72" stroke="#ff7f0e" stroke-width="3.47"/>
</g>
<path d="M999.5 196.5v4.86M1058.5 196.5v4.86M1117.5 196.5v4.86M1176.5 196.5v4.86M999.5 196.5h-4.86M999.5 143.5h-4.86M999.5 90.5h-4.86M999.5 37.5h-4.86" stroke="#000" stroke-width="1.11" fill="none"/>
<rect x="999.5" y="37.5" width="177.0" height="159.0" stroke="#000" stroke-width="1.11" fill="none"/>
</g>
<g id="main1">
<path d="M56.5 416.5V257.5M164.5 416.5V257.5M271.5 416.5V257.5M380.5 416.5V257.5M489.5 416.5V257.5M595.5 416.5V257.5M703.5 416.5V257.5M812.5 416.5V257.5M921.5 416.5V257.5M47.5 416.5H934.5M47.5 377.5H934.5M47.5 337.5H934.5M47.5 297.5H934.5M47.5 257.5H934.5" stroke="#b0b0b0" stroke-width="1.11" stroke-dasharray="4.1111 1.7778" fill="none"/>
<g clip-path="url(#cm1)" fill="none" stroke-linejoin="round" stroke-linecap="square">
<path d="M49.13 360.17 L50.33 366.67 L53 360 L57 359.67 L61 355.17 L66.33 358.17 L69 366 L73 362.33 L77 357.33 L80.33 356.5 L83.67 351 L87.67 353.52 L92.33 366 L95.67 354.15 L101 349.05 L106.33 345.96 L111.67 344.2 L117 341.1 L122.33 345.34 L125 343.46 L130.33 354.37 L137 356.67 L142.33 350.33 L145 340.17 L150.33 337.83 L153 351 L158.33 352 L165 343.24 L170.33 339.97 L175.67 327.37 L181 320.4 L186.33 321.07 L191.67 315.73 L195 319.73 L197.93 315.73 L201 325.73 L204.33 326.4 L207.27 323.73 L209 327.07 L211.67 324.4 L214.33 326.4 L216.33 333.73 L219 329.73 L221.67 328.4 L223.67 330.4 L225 327.07 L228.33 323.73 L232.33 318.4 L235 324.4 L238.33 331.73 L241 338.4 L243.67 326.4 L246.33 325.07 L248.33 331.07 L251 335.07 L254.33 333.07 L256.33 337.07 L259.67 335.73 L263.67 335.73 L267 332.4 L269.67 327.07 L271.67 325.07 L275 337.73 L278.33 337.07 L281 335.07 L283.67 341.73 L287 340.4 L290.33 346.4 L293.67 341.07 L297 339.07 L299.67 337.73 L301.67 342.4 L305.67 344.67 L309 356.9 L313 361.16 L316.33 349.39 L319 353.57 L322.33 358.46 L326.33 354.73 L329 354.91 L331.67 362.42 L333 358.52 L335 366.65 L339 366.25 L342.33 359.81 L345.67 361.37 L349 364.26 L352.33 367.15 L356.33 372 L358.33 378 L363 379.33 L365.67 380.67 L369 379.33 L371.67 384 L373.67 377.33 L375.67 378.67 L378.33 376 L380.33 381.33 L383.67 366 L385 361.33 L388.33 360.67 L391.67 366 L395.67 365.33 L398.33 363.33 L400.33 365.33 L402.33 360 L405.67 352.67 L407 360.67 L410.33 353.33 L413 352 L415 354.67 L417 348.67 L419.67 348 L422.33 350.67 L424.6 355.33 L427.67 349.33 L431.67 342.67 L434.33 344.67 L437 347.33 L438.33 349.33 L440.33 346 L443 347.33 L445.67 350 L447 352 L450.33 358.67 L453 356.67 L454.6 356.67 L455.93 360.67 L459.67 358.67 L463 356.67 L465 350.67 L467 347.33 L470.33 346 L473 331.33 L475.67 332.67 L476.67 333.33 L478.67 332 L481.33 334 L483.33 331.33 L486.67 334.67 L490 339.33 L492.67 336 L495.33 335.33 L497.33 338 L500 330.67 L504 332.67 L506.67 346 L510 343.33 L513.33 340.67 L516.67 346 L520 351 L523.33 350.33 L527.33 356.33 L530.4 363 L532.67 357 L537.33 357.67 L538.67 351 L540.67 359.67 L545.33 356.33 L548.67 363 L552.67 367 L555.33 373.67 L558 381 L561.07 386.33 L563.33 376.33 L566 371 L569.33 377 L572 372.33 L574.67 367.67 L578 365.67 L581.33 376.33 L583.33 376.33 L586 372.33 L589.33 376.33 L591.33 383.67 L594.67 388.33 L596.27 381 L597.73 396.33 L600 383.67 L604 373 L607.33 351 L610 359 L613.33 367 L615.33 361 L619.33 359 L622.67 370.33 L626.67 377 L629.6 382.33 L632 367.67 L634.67 367 L637.6 373 L640.67 366.33 L644 357.67 L646 357.67 L648 365 L652 365 L654.67 359 L658 363 L661.33 365.67 L663.33 364.33 L665.33 371 L669.33 366.33 L670 367.67 L673.33 353.67 L676 357 L678 356.33 L680.67 361.67 L682.67 359.67 L685.33 359 L686.67 365 L690 369 L694 370.33 L697.33 375.67 L698.67 374.33 L702 377.67 L705.33 371 L709.33 371.67 L711.33 369 L712.67 373 L716.67 373 L719.33 371.67 L721.33 376.33 L724.67 381 L728 383.67 L729.33 376.33 L733.33 377.67 L735.33 377 L736.67 383 L738.67 376.33 L740 385 L743.07 389 L746 386.33 L750 385.67 L752 387 L753.33 385 L754 388.33 L756.67 382.33 L760 381 L763.33 383 L764.93 393.67 L768 391 L770.67 401 L774 398.33 L777.33 395.67 L780 399 L782 402.33 L784.67 403.67 L788 401.67 L789.33 399.67 L792.67 401 L794.67 403 L796.67 398.33 L800 394.33 L802 393.67 L802.93 395.67 L805.33 389.67 L808.67 390.33 L812 393.67 L815.33 388.33 L817.73 386.33 L819.33 391 L820.67 387.67 L822.67 391.67 L826 393.67 L828 394.33 L830 395.67 L831.33 391.67 L834.67 391.67 L837.73 401 L840 398.33 L842.67 397 L844 397.67 L846 389.67 L848 391.67 L852 391 L853.33 387 L855.33 391.67 L859.33 389 L861.33 391.67 L864 387.67 L867.33 388.33 L870.67 388.33 L873.33 393 L876 391.67 L878.4 395 L881.33 391 L884 387 L886 390.33 L888.67 386.33 L893.33 379.67 L894.93 384.33 L897.33 382.33 L900.67 381 L902.67 381 L904.27 384.33 L906 382.33 L908.88 379.4" stroke="#1f77b4" stroke-width="2.08"/>
<path d="M49.13 359.83 L50.33 366.13 L53 359.2 L57 358.47 L61 353.67 L66.33 356.33 L69 364 L73 360.5 L77 355.67 L80.33 354.97 L83.67 349.61 L87.67 352.42 L92.33 365.33 L95.67 353.43 L101 348.26 L106.33 345.08 L111.67 343.24 L117 340.07 L122.33 344.23 L125 342.31 L130.33 353.13 L137 355.33 L142.33 349 L145 338.83 L150.33 336.5 L153 349.67 L158.33 350.67 L165 342.22 L170.33 339.2 L175.67 326.84 L181 320 L186.33 320.67 L191.67 315.33 L195 319.33 L197.93 315.33 L201 325.33 L204.33 326 L207.27 323.33 L209 326.67 L211.67 324 L214.33 326 L216.33 333.33 L219 329.33 L221.67 328 L223.67 330 L225 326.67 L228.33 323.33 L232.33 318 L235 324 L238.33 331.33 L241 338 L243.67 326 L246.33 324.67 L248.33 330.67 L251 334.67 L254.33 332.67 L256.33 336.67 L259.67 335.33 L263.67 335.33 L267 332 L269.67 326.67 L271.67 324.67 L275 337.33 L278.33 336.67 L281 334.67 L283.67 341.33 L287 340 L290.33 346 L293.67 340.67 L297 338.67 L299.67 337.33 L301.67 342 L305.67 344.15 L309 356.28 L313 360.42 L316.33 348.55 L319 352.65 L322.33 357.44 L326.33 353.59 L329 353.69 L331.67 361.12 L333 357.18 L335 365.25 L339 364.73 L342.33 358.19 L345.67 359.65 L349 362.44 L352.33 365.23 L356.33 370.67 L358.33 372.67 L363 377.33 L365.67 375.33 L369 374.67 L371.67 379.33 L373.67 372.67 L375.67 374.67 L378.33 372.67 L380.33 377.33 L383.67 362.67 L386.33 358.67 L389.67 358 L391.67 361.33 L395.67 361.33 L398.33 360.67 L400.33 358.67 L402.33 356 L405.67 349.33 L407.67 350 L410.33 346.67 L413 345.33 L415 347.33 L417 340.67 L419.67 341.33 L422.33 344 L424.33 347.33 L427.67 340.67 L431.67 335.33 L434.33 337.33 L437 339.33 L438.33 340 L440.33 338 L443 340 L445.67 344 L447 342.67 L450.33 350.67 L453 350 L454.6 348.67 L456.33 352 L459.67 350.67 L463 349.33 L465 344.67 L467 340 L470.33 338.67 L473 324 L475.67 323.33 L476.67 325.33 L478.67 323.33 L481.33 326 L483.33 322.67 L486.67 325.33 L490 328 L492.67 324.67 L496.67 324 L500 319.33 L504 319.33 L506 331.33 L510 332 L512.67 332 L515.33 328.67 L519.33 337.33 L520 337.67 L524.67 336.33 L527.33 339.67 L530.4 347.67 L532.67 342.33 L537.33 342.33 L538.67 335.67 L540.67 345.67 L545.33 341.67 L548.67 347.67 L552.67 353 L555.33 358.33 L558 362.33 L561.07 367.67 L563.33 356.33 L566 353 L569.33 359 L572 353.67 L574.67 350.33 L578 348.33 L581.33 357.67 L583.33 357.67 L586 353.67 L589.33 355 L591.33 362.33 L594.67 367 L596.27 361.67 L598 373.67 L600 365 L604 348.33 L607.33 330.33 L610 338.33 L613.33 345 L615.33 343 L619.33 339 L622.67 351.67 L626.67 356.33 L629.6 361 L632 349.67 L634.67 348.33 L637.6 354.33 L640.67 347 L644 339.67 L646 340.33 L648 346.33 L652 345.67 L654.67 337.67 L658 342.33 L661.33 345.67 L663.33 343.67 L665.33 350.33 L669.33 344.33 L670 349.67 L673.33 337 L676 339 L678 338.33 L680.67 344.33 L682.67 342.33 L685.33 341 L686.67 347.67 L690 350.33 L694 353 L697.33 357 L698.67 355.67 L702 359 L705.33 352.33 L709.33 351.67 L711.33 349.67 L712.67 353.67 L716.67 351 L719.33 349.67 L721.33 353.67 L724.67 357.67 L728 360.33 L729.33 355.67 L731.33 359 L735.33 357.67 L736.67 363.67 L738.67 357 L740 365.67 L743.07 369 L746 367 L750 367 L752 367.67 L753.33 365 L754 368.33 L756.67 362.33 L760 360.33 L763.33 363 L764.93 371.67 L768 369 L770.67 377 L774 373.67 L777.33 371 L780 375.67 L782 381.67 L784.67 382.33 L786 381.67 L788 383.67 L791.33 381 L794.67 383.67 L796.67 378.33 L800 375 L802 376.33 L805.33 371 L808.67 371.67 L812 375 L815.33 370.33 L817.73 368.33 L820 371.67 L822.67 374.33 L826 375.67 L828 375 L830 377.67 L833.33 375 L836 379.67 L839.33 379 L842.67 377.67 L844 379 L846 371.67 L849.33 371 L852 371.67 L853.33 367.67 L856.67 371 L859.33 370.33 L861.33 371.67 L864 368.33 L867.33 369 L870.67 368.33 L873.33 372.33 L876 373 L878.4 375.67 L881.33 371.67 L884 368.33 L886 371 L888.67 367 L893.33 362.33 L894.93 366.33 L897.33 363 L900.67 363 L902.67 363.67 L904.27 365.67 L906 363 L908.88 359.93" stroke="#ff7f0e" stroke-width="2.08"/>
<path d="M49.13 359.33 L50.33 365.33 L53 358 L57 356.67 L61 350.67 L66.33 351.33 L69 358 L73 355.33 L77 351.33 L80.33 351.33 L83.67 346.67 L87.67 350 L92.33 363.33 L95.67 351.33 L101 346 L106.33 342.67 L111.67 340.67 L117 337.33 L122.33 341.33 L125 339.33 L130.33 350 L137 352 L142.33 346 L145 336 L150.33 334 L153 347.33 L158.33 348.67 L165 340.67 L170.33 338 L175.67 326 L181 319.33 L186.33 320 L191.67 314.67 L195 318.67 L197.93 314.67 L201 324.67 L204.33 325.33 L207.27 322.67 L209 326 L211.67 323.33 L214.33 325.33 L216.33 332.67 L219 328.67 L221.67 327.33 L223.67 329.33 L225 326 L228.33 322.67 L232.33 317.33 L235 323.33 L238.33 330.67 L241 337.33 L243.67 325.33 L246.33 324 L248.33 330 L251 334 L254.33 332 L256.33 336 L259.67 334.67 L263.67 334.67 L267 331.33 L269.67 326 L271.67 324 L275 336.67 L278.33 336 L281 334 L283.67 340.67 L287 339.33 L290.33 345.33 L293.67 340 L297 338 L299.67 336.67 L301.67 341.33 L305.67 343.33 L309 355.33 L313 359.33 L316.33 347.33 L319 351.33 L322.33 356 L326.33 352 L329 352 L331.67 359.33 L333 355.33 L335 363.33 L339 362.67 L342.33 356 L345.67 357.33 L349 360 L352.33 362.67 L356.33 368 L358.33 366.67 L363 374 L365 370.67 L369 370 L371.67 370.67 L373.67 366 L375.67 368 L378.33 366.67 L380.33 372.67 L383.67 356.67 L386.33 355.33 L389.67 354.67 L391.67 356.67 L395.67 356.67 L398.33 356.67 L400.33 353.33 L402.33 349.33 L405.67 343.33 L407.67 342.67 L410.33 339.33 L413 338 L415 340 L417 333.33 L419.67 334.67 L422.33 337.33 L423.67 334 L425.67 338 L428.33 332 L431.67 328.67 L434.33 329.33 L437 331.33 L438.33 332.67 L440.33 330 L443 332.67 L445.67 336.67 L447 335.33 L450.33 342.67 L453 342.67 L454.6 341.33 L456.33 344 L459.67 342.67 L463 341.33 L465 337.33 L467 331.33 L470.33 331.33 L473 317.33 L475.67 316 L476.67 317.33 L478.67 315.33 L481.33 318.67 L483.33 314.67 L486.67 316.67 L490 318.67 L492.67 316 L496.67 314 L500 310 L504 309.73 L506 320.67 L510 321.33 L512.67 321.33 L515.33 318.67 L519.33 326 L522 324.67 L524.4 324 L527.33 329.33 L530.67 336 L532.67 331.33 L536.67 330.67 L538.67 324 L540.67 333.33 L543.33 330.67 L546 328.67 L550 336 L552.67 338 L555.33 346 L556.67 343.33 L558.67 348.67 L561.33 352.67 L563.33 342.67 L566 338 L569.33 344 L572 338 L575.33 336 L578 335.33 L581.33 343.33 L584.67 340 L587.33 338.67 L589.33 338 L592 345.33 L595.33 349.33 L596.67 346.67 L598 354 L602 342 L604.67 331.33 L607.33 314.67 L610 322.67 L612 324.67 L614 328 L616.67 324.67 L619.07 320.67 L622.67 334 L626 336.67 L628.67 340 L632 332.33 L635.33 330.33 L637.73 335.67 L639.33 331 L643.33 324.33 L646 323 L648.67 329.67 L652 329 L654.4 318.33 L657.33 323 L660 325.67 L662.67 327.67 L665.33 331 L670 325.67 L671.07 331.67 L673.33 321 L677.33 322.33 L680.67 327.67 L682.67 325.67 L685.33 323.67 L687.33 330.33 L690.67 333 L694 333.67 L697.33 337.67 L699.33 337 L702.4 341 L705.33 335.67 L708 333.67 L711.33 331 L713.33 336.33 L715.33 332.33 L718 332.33 L720 329.67 L723.33 334.33 L726.67 339 L729.33 334.33 L731.33 339 L734.67 338.33 L736.67 343.67 L738 338.33 L740.67 345 L744 348.33 L746.67 346.33 L751.33 346.33 L753.33 343.67 L756 341 L759.33 339.67 L762.67 341 L764.67 348.33 L768 346.33 L771.33 351.67 L774.67 349.67 L777.33 347.67 L780 352.33 L782 358.33 L784.67 360.33 L786 359 L788 363 L791.33 361 L794.67 363 L796.67 357 L800 354.33 L802 356.33 L805.33 351 L808.67 352.33 L812 355.67 L815.33 351 L817.73 349.67 L820 353.67 L822.67 356.33 L826 357.67 L828 356.33 L830 359.67 L833.33 357 L836 362.33 L839.33 358.33 L842.67 357.67 L844 359.67 L846 351.33 L849.33 350.67 L852 350.67 L853.33 347.33 L856.67 350 L859.33 350 L861.33 351.33 L864 348 L867.33 348.67 L870.67 347.33 L873.33 350.67 L876 352 L878.4 354.67 L881.33 351.33 L884 348.67 L886 350.67 L888.67 346.67 L893.33 342.67 L894.93 346 L897.33 342.67 L900.67 342.67 L902.67 343.33 L904.27 346 L906 343.33 L908.88 341.33" stroke="#2ca02c" stroke-width="2.08"/>
<path d="M49.13 352.67 L50.33 358 L53 350.67 L57 350 L61 342 L66.33 343.33 L69 348.67 L73 343.33 L77 340 L80.33 340.67 L83.67 337.33 L87.67 339.33 L92.33 348.67 L95.67 340 L101 334 L106.33 327.33 L111.67 330 L117 328 L122.33 333.33 L125 330.67 L130.33 341.33 L137 343.33 L142.33 336 L145 328 L150.33 326.67 L153 334 L158.33 335.33 L165 328.67 L170.33 326 L175.67 319.33 L181 311.33 L186.33 312.67 L191.67 308.67 L195 311.33 L197.93 309.33 L201 316.67 L204.33 319.33 L207.27 317.33 L209 318.67 L211.67 318.67 L214.33 320 L216.33 326 L219 322.67 L221.67 322 L223.67 324 L225 321.33 L228.33 318.67 L232.33 313.33 L235 318.67 L238.33 324.67 L241 330.67 L243.67 321.33 L246.33 320 L248.33 325.33 L251 330.67 L254.33 328.67 L256.33 332.67 L259.67 330 L263.67 330.67 L267 326.67 L269.67 320 L271.67 316.67 L275 328.67 L278.33 329.33 L281 327.33 L284.33 333.33 L287.67 330.67 L289.67 336 L293.67 331.33 L297 329.33 L299 324.67 L301.67 330 L305.67 332.67 L309 340 L313 348.67 L316.33 335.33 L319 340 L322.33 342.67 L326.33 340.67 L329 342.67 L331.67 348 L333 344 L335 348.67 L339 347.33 L342.33 343.33 L345.67 344.67 L349 347.33 L352.33 349.33 L356.33 353.33 L358.33 352 L363 358.67 L365.67 354.67 L369 353.33 L371.67 353.33 L373.27 350 L375.67 351.33 L378.33 350 L380.33 356 L383 343.33 L386.33 341.33 L389.67 340 L391.67 339.33 L395.67 341.33 L397.67 342 L399.67 338 L401.67 335.33 L403.67 332.67 L405.67 332 L407.67 328.67 L411.67 324.67 L414.33 326.67 L415.4 329.33 L417.67 322.67 L419.67 324 L421.67 327.33 L423 323.33 L425 328.67 L428.33 322.67 L431.67 316.67 L434.33 318.67 L437 319.33 L439 318.67 L440.33 317.33 L443 321.33 L445.67 325.33 L447 324 L450.33 330.67 L453 330.67 L454.6 329.33 L456.33 332.67 L459.67 330.67 L463 328 L465 323.33 L467 317.33 L470.33 317.33 L473.67 307.33 L475.67 306 L476.67 306.67 L478 304 L480.67 307.33 L483.33 303.33 L486.67 304.67 L489.33 304.67 L492.67 301.33 L496.67 299.33 L500 296 L502.67 296 L504.4 295.33 L506 301.33 L510 304 L512.67 305.33 L515.33 303.33 L519.33 310 L522 308.67 L524.4 306.67 L527.33 311.33 L530.67 320 L532.67 315.33 L536.67 314 L538.67 308 L540.67 315.33 L543.33 313.33 L546 311.33 L550 317.33 L552.67 319.33 L555.33 325.33 L556.67 322.67 L558.67 327.33 L561.33 331.33 L563.33 321.33 L566 317.33 L569.33 321.33 L572 316.67 L575.33 316 L578 316 L581.33 321.33 L584.67 316.67 L587.33 316 L589.33 313.33 L592 320 L595.33 324 L597.33 323.33 L599.33 326 L602 316.67 L604.67 307.33 L607.33 292.67 L610 298.67 L612 300 L614 302.67 L616.67 298.67 L619.07 294.67 L622.67 307.33 L626 309.33 L628.67 312.67 L632 305 L635.33 303.67 L637.73 307 L639.33 303.67 L643.33 299 L646 297.67 L648.67 302.33 L652 301.67 L654.4 291 L657.33 293.67 L660 296.33 L662.67 299 L665.33 302.33 L669.33 296.33 L671.07 303.67 L673.33 295.67 L677.33 296.33 L680.67 301.67 L682.67 298.33 L685.33 297 L687.33 303 L690.67 304.33 L694 304.33 L697.33 308.33 L699.33 307 L702.4 311 L705.33 305.67 L708 303.67 L711.33 301 L713.33 305 L715.33 301 L718 301 L720 299 L723.33 301.67 L726.67 306.33 L729.33 302.33 L731.33 305.67 L734.67 304.33 L736.67 309.67 L738 305 L740.67 310.33 L744 312.33 L746.67 310.33 L751.33 310.33 L753.33 307.67 L756 304.33 L759.33 303.67 L761.33 304.33 L763.33 304.33 L764.67 309.67 L768 309 L771.33 310.33 L774.67 307.67 L777.33 305 L780 311.33 L782 317.33 L784.67 320.67 L786 319.33 L788 324 L791.33 323.33 L794.67 324.67 L796.67 320.67 L800 317.33 L802 318.67 L805.33 316 L808.67 317.33 L812 318.67 L815.33 316.67 L817.73 314.67 L820 318.67 L822.67 322.67 L826 323.33 L828 322.67 L830 324.67 L833.33 323.33 L836 328 L839.33 324 L842 324.67 L844 327.33 L846 320 L849.33 317.33 L852 317.33 L853.33 314 L856.67 316 L859.33 316 L861.33 318 L864 314 L867.33 314 L870.67 312.67 L873.33 314.67 L876 315.33 L878.4 319.33 L881.33 315.33 L884 312.67 L886 314 L888.67 310.67 L893.33 308 L894.93 310 L897.33 306 L900.67 306.67 L902.67 306.67 L904.27 309.33 L906 306.67 L908.88 304.93" stroke="#d62728" stroke-width="2.08"/>
<path d="M49.13 344.67 L50.33 350.67 L53 344 L57 343.33 L61 335.33 L66.33 336.67 L70.33 334.67 L75.67 332.67 L79.67 333.33 L83.67 328 L87.67 330 L92.33 338 L95.67 332.67 L101 327.33 L106.33 324 L111.67 324.67 L117 322.67 L122.33 326 L125 324 L130.33 332.67 L137 335.33 L142.33 329.33 L147.67 328 L151.67 326 L158.33 330.67 L165 325.33 L170.33 322 L175.67 314 L181 306.67 L186.33 308 L191.67 303.33 L195 307.33 L197.93 304 L201 311.33 L204.33 314 L207.27 312 L209 315.33 L211.67 314 L214.33 314.67 L216.33 320.67 L219 318 L221.67 318 L223.67 319.33 L225 316 L228.33 314 L232.33 308 L235 312.67 L238.33 318.67 L241 326 L243.67 316.67 L246.33 314.67 L248.33 320 L251 326.67 L254.33 325.33 L256.33 328.67 L259.67 325.33 L263.67 326.67 L267 320.67 L269.67 314 L271.67 311.33 L275 321.33 L278.33 323.33 L281 320.67 L284.33 327.33 L287.67 324.67 L289.67 329.33 L293.67 324 L297 322 L299 316.67 L301.67 321.33 L305.67 324 L309 330.67 L312.33 338.67 L315.67 326 L319 330.67 L322.33 333.33 L326.33 332 L329 334.67 L331.67 338.67 L333 334.67 L335 338.67 L339 338 L342.33 333.33 L345.67 336 L349 338 L352.33 340 L356.33 343.33 L358.33 342 L362.33 349.33 L365 344 L369 342 L371.67 342.67 L373.27 339.33 L375.67 340.67 L378.33 340 L380.33 344.67 L383 333.33 L386.33 332 L389.67 331.33 L391.67 329.33 L395.67 332 L397.67 332.67 L399.67 328 L401.67 326 L403.67 322 L405.67 322 L407.67 320 L411.67 318.67 L414.33 321.33 L415.4 324.67 L417 316.67 L419.67 318 L421.67 324 L423 316.67 L425 324.67 L428.33 318 L431.67 312 L434.33 313.33 L437 312.67 L439 314 L440.33 312.67 L443 316 L445.67 319.33 L447 318 L450.33 324 L453 324.67 L454.6 324 L456.33 326.67 L459.67 324.67 L463 322.67 L465 316 L467 310.67 L470.33 310 L473.67 301.33 L476.67 301.33 L478 299.33 L480.67 302.67 L483.33 298 L486.67 298.67 L489.33 298.67 L492.67 295.33 L496.67 292.67 L500 289.33 L502.67 290 L504.4 288 L506 295.33 L510 297.33 L512.67 298.67 L515.33 297.33 L519.33 304 L522 302.67 L524.4 300.67 L527.33 305.33 L531.07 313.33 L532.67 309.33 L536.67 308 L538.67 300.67 L540.67 308 L543.33 306 L546 304 L550 308.67 L552.67 310.67 L555.33 316 L556.67 313.33 L558.67 318 L561.33 320.67 L563.33 311.33 L566 308.67 L569.33 311.33 L572 307.33 L575.33 306.67 L578 307.33 L581.33 311.33 L584.67 306.67 L587.33 304.67 L589.33 302 L592 308.67 L595.33 312 L597.33 311.33 L599.33 314 L602 304.67 L604 294.67 L605.73 283.33 L607.33 282.67 L610 288 L612 286.67 L614 289.33 L616.67 286 L619.07 282.67 L622.67 294 L626 296 L628.67 299.33 L632 292.33 L635.33 290.33 L637.73 293.67 L639.33 289.67 L643.33 285.67 L646 285 L648.67 289.67 L652 289 L654.4 277 L657.33 279 L660 283 L662.67 285.67 L665.33 288.33 L668.67 282.33 L671.07 289 L673.33 282.33 L677.33 283 L680.67 289 L682.67 285 L685.33 283 L687.33 289 L690.67 289.67 L694 289.67 L697.33 293 L699.33 291.67 L702.4 296.33 L705.33 291.67 L708 289 L711.33 286.33 L713.33 291 L715.33 285.67 L718 285.67 L720 283 L723.33 285.67 L726.67 289.67 L729.33 285.67 L731.33 289 L734.67 287 L736.67 292.33 L738 287 L740.67 291 L744 293.67 L746.67 291.67 L751.33 291 L753.33 288.33 L756 284.33 L759.33 283 L761.33 285.67 L763.33 285 L764.67 289.67 L768 289 L771.33 288.33 L774.67 285.67 L777.33 283.67 L780 289.33 L782 296.67 L784.67 299.33 L786 298 L788 303.33 L791.33 302.67 L794.67 304.67 L796.67 300.67 L800 297.33 L802 298.67 L805.33 296 L808.67 298 L812 299.33 L815.33 296.67 L817.73 294.67 L820 300 L822.67 303.33 L826 304.67 L828 304 L830 306.67 L833.33 305.33 L836 309.33 L839.33 307.33 L842 308 L844 310 L846 302.67 L849.33 300 L852 300 L853.33 297.33 L856.67 298.67 L859.33 298.67 L861.33 301.33 L864 296 L867.33 296.67 L870.67 294.67 L873.33 296.67 L876 296.67 L878.4 300.67 L881.33 297.33 L884 294.67 L886 295.33 L888.67 291.33 L893.33 290.67 L894.93 292.67 L897.33 288 L900.67 288 L902.67 289.33 L904.27 290.67 L906 288 L908.88 286.67" stroke="#9467bd" stroke-width="2.08"/>
</g>
<path d="M56.5 416.5v4.86M164.5 416.5v4.86M271.5 416.5v4.86M380.5 416.5v4.86M489.5 416.5v4.86M595.5 416.5v4.86M703.5 416.5v4.86M812.5 416.5v4.86M921.5 416.5v4.86M47.5 416.5h-4.86M47.5 377.5h-4.86M47.5 337.5h-4.86M47.5 297.5h-4.86M47.5 257.5h-4.86" stroke="#000" stroke-width="1.11" fill="none"/>
<rect x="47.5" y="257.5" width="887.0" height="159.0" stroke="#000" stroke-width="1.11" fill="none"/>
</g>
<g id="right1">
<path d="M999.5 416.5V257.5M1058.5 416.5V257.5M1117.5 416.5V257.5M1176.5 416.5V257.5M999.5 416.5H1176.5M999.5 377.5H1176.5M999.5 337.5H1176.5M999.5 297.5H1176.5M999.5 257.5H1176.5" stroke="#b0b0b0" stroke-width="1.11" stroke-dasharray="4.1111 1.7778" fill="none"/>
<g clip-path="url(#cr1)" fill="none" stroke-linejoin="round" stroke-linecap="square">
<path d="M1028.45 381.14 L1040.27 362.05 L1058 342.95 L1117.1 306.36 L1176.2 288.07" stroke="#1f77b4" stroke-opacity="0.5" stroke-width="2.08"/>
<path d="M1028.45 379.71 L1040.27 360.62 L1058 341.52 L1117.1 304.93 L1176.2 286.63" stroke="#ff7f0e" stroke-width="3.47"/>
</g>
<path d="M999.5 416.5v4.86M1058.5 416.5v4.86M1117.5 416.5v4.86M1176.5 416.5v4.86M999.5 416.5h-4.86M999.5 377.5h-4.86M999.5 337.5h-4.86M999.5 297.5h-4.86M999.5 257.5h-4.86" stroke="#000" stroke-width="1.11" fill="none"/>
<rect x="999.5" y="257.5" width="177.0" height="159.0" stroke="#000" stroke-width="1.11" fill="none"/>
</g>
<g id="main2">
<path d="M56.5 636.5V477.5M164.5 636.5V477.5M271.5 636.5V477.5M380.5 636.5V477.5M489.5 636.5V477.5M595.5 636.5V477.5M703.5 636.5V477.5M812.5 636.5V477.5M921.5 636.5V477.5M47.5 636.5H934.5M47.5 597.5H934.5M47.5 557.5H934.5M47.5 517.5H934.5M47.5 477.5H934.5" stroke="#b0b0b0" stroke-width="1.11" stroke-dasharray="4.1111 1.7778" fill="none"/>
<g clip-path="url(#cm2)" fill="none" stroke-linejoin="round" stroke-linecap="square">
<path d="M49.13 544.33 L51 547.67 L53 546.33 L57 541 L62.33 540.07 L67.67 537.4 L71.67 534.2 L77 531 L82.33 533.67 L87.67 534.33 L93 541 L98.33 536.33 L103.67 533.67 L109 526.33 L117 525.67 L125 525 L130.33 523.67 L135.67 528.33 L138.33 531 L143.67 527 L149 523.67 L155.67 524.33 L161 523.67 L170.33 522.33 L175.67 518.33 L181 515.67 L183.67 521 L191.67 521 L195 523.67 L197.67 525 L200.33 528.33 L203.67 530.33 L207 532.33 L210.33 530.33 L213.67 532.33 L215.67 534.33 L218.33 531.67 L223 531.67 L226.33 531.67 L229.67 529.67 L232.33 529 L235.67 531.05 L239 533.99 L241.67 536.21 L245.67 535.21 L248.33 540.09 L251.27 547.67 L255 543.43 L257.67 541.26 L260.33 542.42 L263.67 542.9 L266.33 538.77 L269 537.3 L271.67 534.5 L274.33 537.7 L277.67 538.9 L281.67 540.43 L284.33 544.33 L288.33 541 L290.33 543 L293 541 L296.33 541.67 L299 545 L303 546.33 L306.33 548.71 L308.07 555.25 L309.4 565 L311.67 565.94 L314.33 560.25 L316.33 558.59 L319 559.77 L321.67 557.62 L323.67 561.67 L325 557.75 L327.67 559.9 L332.33 560.84 L335 557 L338.33 555.52 L341 555.67 L344.33 559 L347 563 L349.67 567.67 L353 567 L355.67 567.33 L358.33 561.33 L362.33 560.67 L365.67 554 L368.33 554.67 L372.33 551.33 L375 554.67 L378.33 552 L381.67 548 L385 544.67 L388.33 542.67 L391 536.67 L394.33 538.67 L397.67 541.33 L401 538.67 L405 537.33 L407 530.67 L410.33 531.33 L415 526 L417.67 528 L420.33 532 L422.07 534 L422.6 520 L425 522.67 L429 522.67 L433 525.33 L437 524 L440.33 523.33 L443.67 526.67 L447 530 L450.33 530.67 L453.67 530 L455.67 527.33 L458.07 531.33 L461.67 530 L464.33 526.67 L467 524.67 L470.33 526 L473.67 528.67 L477 526.67 L481 526 L484.33 526.67 L487 525.33 L489.67 523.33 L492.33 525.33 L495 524.67 L497 518.67 L499.67 515.33 L501 514 L503.67 512.67 L507 515.33 L510.33 516 L513 518 L515.67 515.33 L519 516.67 L522.33 516 L525 512 L528.07 508 L530.33 511.33 L533 510 L535.67 508.67 L538.33 504 L541 507.33 L544.33 505.33 L547.67 504 L549.67 508 L552.33 508 L555.67 512.67 L558.33 510 L561.67 509.33 L564.33 512 L567.67 516 L570.33 516.67 L571.67 514.67 L573.67 518 L577 518.67 L579 519.33 L581 516.67 L583.67 515.33 L587 512 L589.67 508.67 L591.67 510 L593.93 508 L596.33 514.67 L597.93 517.33 L599.67 531.33 L601.67 532 L604.6 520.67 L607 530.67 L609.67 530 L612.33 530.67 L615 536 L619 536.67 L622.33 529.33 L625 532.67 L628.33 534 L632.33 532 L635.67 530.67 L638.33 529.33 L640.33 526 L643 528 L646.33 522 L648.33 523.33 L652.33 522.67 L657 524.67 L661 524 L665 526 L669.67 526.67 L672.33 530.67 L676.33 529.33 L680.33 532.67 L683.67 531.33 L687 528 L690.33 527.33 L695 531.33 L697 534 L699 532 L702.33 531.33 L706.33 526.67 L710.33 524.67 L713 526 L715.67 521.33 L719 519.33 L721.67 515.33 L725 517.33 L728.33 519.33 L730.33 517.33 L733 519.33 L736.33 518.67 L738.33 522.67 L740.33 526.67 L744.33 524 L746.33 525.33 L748.33 520 L751.67 520 L754.33 522.67 L757.67 523.33 L760.33 523.33 L762.33 526 L765 519.33 L768.33 518 L770.33 517.33 L773.67 518.67 L777 518.67 L779.67 520.67 L783 523.33 L785 522.67 L788.33 524 L791.67 523.33 L795 524 L798.33 522 L800.67 523.33 L803.33 523.33 L807.33 523.33 L810.67 524 L813.33 527.33 L818 526.67 L821.33 526 L823.33 529.33 L828 530.67 L831.33 534 L834.67 534 L836.4 529.33 L837.73 523.33 L840 526 L843.33 528 L847.33 525.33 L851.33 525.33 L855.33 528 L859.33 526.67 L863.33 527.33 L867.33 526.67 L870 528 L873.33 531.33 L876.67 534 L880 533.33 L884 532 L886.67 532.67 L888.67 530 L892 531.33 L896.67 531.33 L900 533.33 L902.67 536 L905.33 535.33 L908.88 537.07" stroke="#1f77b4" stroke-width="2.08"/>
<path d="M49.13 541.67 L50.33 544.33 L53 543 L57 540.33 L62.33 539.67 L67.67 537 L71.67 533.93 L77 530.73 L82.33 533.4 L87.67 533.93 L93 540.6 L98.33 535.93 L103.67 533.67 L106.33 528.33 L109 527 L114.33 527 L117 526.33 L119.67 529 L125 526.33 L130.33 525 L135.67 529 L138.33 531.67 L143.67 528.33 L149 525.67 L151.67 523.67 L155.67 526.33 L161 525 L165 523.67 L170.33 523 L175.67 520.33 L181 517.67 L183.67 521.67 L191.67 521.67 L195 523 L197.67 524.33 L200.33 527.67 L203.67 529.67 L207 531.67 L210.33 529.67 L213.67 531.67 L215.67 533.67 L218.33 531 L223 531 L226.33 531 L229.67 529 L232.33 528.33 L235.67 530.33 L239 533 L241.67 535 L245.67 533.67 L248.33 538.33 L251.27 545.67 L255 541.67 L257.67 539.67 L260.33 541 L263.67 541.67 L266.33 537.67 L269 536.33 L271.67 533.67 L274.33 537 L277.67 537.67 L281.67 538.33 L284.33 541.67 L288.33 538.33 L290.33 540.33 L293 538.33 L296.33 539 L299 542.33 L303 543.67 L306.33 545 L308.07 551 L309.4 560.33 L311.67 561 L314.33 555 L316.33 553.67 L319 555.67 L321.67 554.33 L323.67 559 L325 555 L327.67 557 L332.33 557.67 L335 553.67 L338.33 550.33 L341 549 L344.33 552.33 L347 556.33 L349.67 561 L353 560.33 L355.67 560.67 L358.33 556.67 L362.33 554.67 L365.67 548.67 L368.33 550 L372.33 546.67 L375 550.67 L378.33 548.67 L381.67 545.33 L385 541.33 L388.33 539.33 L391 534 L394.33 536 L397.67 538.67 L401 536 L405 534.67 L408.33 532.67 L411.67 532.67 L415 528.67 L417.67 529.33 L420.33 532.67 L422.07 534.67 L422.6 522 L423.67 526 L427 525.33 L430.33 525.33 L433.67 528 L437 526.67 L440.33 526.67 L443.67 530 L447 533.33 L450.33 534 L453.67 532.67 L455.67 530 L458.07 534 L461.67 532.67 L464.33 529.33 L467 527.33 L470.33 528.67 L473.67 530.67 L477 529.33 L481 528 L484.33 528.67 L487 529.33 L489.67 528.67 L492.33 528.67 L495 527.33 L497 523.33 L499.67 520 L501 518 L503.67 517.33 L507 520 L510.33 521.33 L513 522.67 L515.67 520 L519 521.33 L522.33 522 L524.33 521.33 L528.07 516.67 L530.33 519.33 L533 517.33 L535.67 516 L538.33 512.67 L541 515.33 L544.33 514 L547.67 512.67 L549.67 516.67 L552.33 516 L555.67 521.33 L558.33 520 L561.67 521.33 L564.33 524 L567.67 526 L570.33 526.67 L571.67 526 L573.67 527.33 L577 528 L579 528 L581 526 L583.67 524 L587 522 L589.67 520 L591.67 521.33 L593.93 519.33 L596.33 525.33 L597.93 530.67 L599.67 540 L601.67 540 L604.6 530.67 L607 538.67 L609.67 536 L611.67 535.33 L613 541.33 L615 537.33 L619 537.33 L622.33 532 L625 534.67 L628.33 537.33 L632.33 535.33 L635.67 534 L638.33 533.33 L640.33 530.67 L643 531.33 L646.33 524.67 L648.33 527.33 L652.33 526.67 L657 528 L661 528.27 L665 529.33 L669.67 530.47 L672.33 532.67 L676.33 531.33 L680.33 534 L683.67 532.67 L687 531.33 L690.33 530.67 L695 533.33 L698.33 534 L702.33 533.33 L706.33 530.67 L710.33 529.33 L713 529.82 L715.67 526.13 L719 524.36 L721.67 522 L725 523.78 L728.33 526.22 L730.33 521.16 L733 522 L736.33 521.33 L738.33 525.33 L740.33 530.67 L744.33 527.33 L746.33 528.67 L748.33 524.67 L751.67 524.67 L754.33 526.67 L757.67 526 L760.33 527.33 L762.33 528.67 L765 524 L768.33 523.33 L770.33 522.67 L773.67 524 L777 524 L779.67 525.33 L783 528.67 L785 528.67 L788.33 529.33 L791.67 528 L795 527.33 L798.33 526 L800.67 527.06 L803.33 526.43 L807.33 527.14 L810.67 528.51 L813.33 530.55 L818 529.94 L821.33 528.64 L823.33 532.67 L828 534.27 L831.33 536.5 L834.67 536.08 L837.33 531 L840 530.08 L843.33 531.56 L847.33 529.72 L851.33 529.89 L855.33 531.39 L859.33 530.89 L863.33 532.39 L867.33 531.89 L870 532.67 L873.33 535.8 L876.67 537.6 L880 536.84 L884 536.07 L886.67 535.33 L888.67 534.61 L892 534.52 L896.67 535.07 L900 535.67 L902.67 536.81 L905.33 537.64 L908.88 538" stroke="#ff7f0e" stroke-width="2.08"/>
<path d="M49.13 541.67 L50.33 543.67 L53 542.33 L57 540.33 L62.33 539 L67.67 536.33 L71.67 533.67 L77 530.33 L82.33 533 L87.67 533.67 L93 540.33 L98.33 535.67 L103.67 535 L109 531 L117 531 L125 530.33 L133 531 L138.33 531.67 L146.33 529 L154.33 528.33 L162.33 527 L170.33 526.33 L175.67 525 L181 523.67 L186.33 523.67 L191.67 522.33 L195 525.4 L197.67 526.73 L200.33 528.73 L203.67 529.4 L207 530.73 L210.33 529.4 L213.67 530.73 L217 531.4 L220.33 530.73 L223 530.73 L226.33 531.4 L229.67 530.07 L232.33 527.4 L235.67 530.18 L239 532.77 L241.67 534.57 L245.67 534.61 L248.33 537.08 L251.67 541.67 L255 539.67 L257.67 537.8 L260.33 539.27 L263.67 539 L266.33 535.67 L269 535 L271.67 532.33 L274.33 534.33 L277.67 534.33 L281.67 535.67 L285 536.33 L288.33 534.33 L290.33 534.24 L293 531.67 L296.33 531.26 L300.33 534.23 L303.67 536.44 L307 539.72 L309 547.15 L310.33 552.33 L313 550.33 L315 548.33 L317.67 548.33 L320.33 548.33 L323 550.33 L324.33 549 L326.33 551.67 L329 552.23 L332.33 549.73 L335 547.33 L338.33 545.5 L341.67 544.33 L344.33 546.07 L347 549.13 L349.67 554.2 L353 554.03 L355.67 554.67 L358.33 551.33 L362.33 548.67 L365.67 543.33 L368.33 544 L372.33 541.33 L375 544 L378.33 542 L381.67 539.33 L385 536.67 L388.33 534 L391 530 L394.33 532 L397.67 535.33 L401 532.67 L405 531.33 L408.33 532.67 L411.67 532.67 L415 529.33 L417.67 530 L420.33 534 L422.07 535.33 L423 528.67 L427 528.67 L430.33 528.67 L433.67 530 L437 529.33 L440.33 529.33 L443.67 532 L447 535.33 L450.33 536 L453.67 535.33 L455.67 534 L458.07 537.33 L461.67 535.33 L464.33 532.67 L467 530 L470.33 530.67 L473.67 532.67 L477 530.67 L481 528.67 L484.33 529.33 L487 530.67 L489.67 529.33 L492.33 529.33 L495 528 L497 525.33 L499.67 524 L501 520.67 L503.67 520 L507 523.33 L510.33 524.67 L513 526.67 L515.67 522.67 L519 524.67 L522.33 525.33 L524.33 524 L528.07 520.67 L530.33 522.67 L533 522.67 L535.67 522 L538.33 519.33 L541 522 L544.33 521.33 L547.67 520.67 L549.67 523.33 L552.33 523.33 L555.67 528 L558.33 526.67 L561.67 528 L564.33 530 L567.67 531.33 L570.33 532.67 L571.67 531.33 L573.67 533.33 L577 534 L579 533.33 L581 532 L583.67 530.67 L587 528 L589.67 526 L591.67 526.67 L593.93 526 L596.33 530.67 L597.93 536 L599.67 542 L601.67 542 L604.6 534 L607 541.33 L609.67 538.67 L611.67 537.33 L613 542.67 L615 538 L619 537.33 L622.33 532.67 L625 536 L628.33 538.67 L632.33 536 L635.67 534.67 L638.33 534.67 L640.33 533.33 L643 533.33 L646.33 528 L648.33 530 L652.33 528 L657 529.33 L661 529.33 L665 530 L669.67 530.67 L672.33 532.67 L676.33 531.33 L680.33 534 L683.67 532.67 L687 531.33 L690.33 530.67 L695 533.33 L698.33 534 L702.33 533.33 L706.33 530.67 L710.33 529.33 L713 530 L715.67 526.67 L719 525.33 L721.67 523.33 L725 524.67 L728.33 526.67 L730.33 521.33 L733 522 L736.33 521.33 L738.33 525.33 L740.33 530.67 L744.33 527.33 L746.33 528.67 L748.33 524.67 L751.67 524.67 L754.33 526.67 L757.67 526 L760.33 527.33 L762.33 528.67 L765 524 L768.33 523.33 L770.33 522.67 L773.67 524 L777 524 L779.67 525.33 L783 528.67 L785 528.67 L788.33 529.33 L791.67 528 L795 527.33 L798.33 526 L800.67 527.33 L803.33 526.67 L807.33 527.33 L810.67 528.67 L813.33 530.67 L818 530 L821.33 528.67 L823.33 532.67 L828 533.33 L831.33 535.33 L834.67 535.33 L837.33 533.33 L840 533.33 L843.33 534.67 L847.33 532.67 L851.33 532.67 L855.33 534 L859.33 533.33 L863.33 534.67 L867.33 534 L870 534.67 L873.33 537.33 L876.67 538.67 L880 538 L884 537.33 L886.67 536.67 L888.67 536 L892 536 L896.67 536.67 L900 536.67 L902.67 537.33 L905.33 538 L908.88 538.27" stroke="#2ca02c" stroke-width="2.08"/>
<path d="M49.13 525 L50.33 527.67 L53 526.33 L57 523.67 L62.33 522.33 L67.67 523 L71.67 517.67 L77 515 L82.33 517 L87.67 517 L93 525 L98.33 521 L103.67 521.67 L109 519 L117 519.67 L125 518.33 L133 521.67 L138.33 523 L146.33 521 L154.33 519.67 L162.33 517.67 L170.33 516.33 L175.67 515 L181 513 L186.33 514.33 L191.67 511.67 L195 511.67 L197.67 512.33 L200.33 515.67 L203.67 516.33 L207 518.33 L210.33 516.33 L213.67 517 L217 519 L220.33 517 L223 517.67 L225.67 520.33 L229 519.67 L232.33 516.33 L235.67 517.67 L239 519.67 L241.67 521.67 L245.67 520.33 L248.33 523 L251.67 525.67 L255 523.67 L257.67 523 L260.33 525 L263.67 525 L266.33 521 L269 519 L271.67 516.33 L274.33 519 L277.67 519 L281.67 519.67 L285 519.67 L288.33 519 L290.33 520.33 L293 517 L296.33 517.67 L300.33 519.67 L303.67 521 L306.33 521.67 L308.07 527 L309.4 535 L312.33 532.33 L315 528.33 L317.67 529 L320.33 527.67 L323.67 532.33 L326.33 531 L329 533 L332.33 533 L335 530.33 L338.33 528.33 L341.67 528.33 L344.33 529.67 L347 532.33 L349.67 536.33 L353 537 L355.67 537.33 L358.33 534.67 L362.33 532.67 L365.67 530 L368.33 531.33 L372.33 528.67 L375 530 L378.33 528 L381.67 525.33 L385 523.33 L388.33 521.33 L391 518 L394.33 520 L397.67 522 L401 519.33 L405 518 L408.33 520.67 L411.67 520 L415 517.33 L417.67 518 L420.33 521.33 L422.07 522 L422.6 514.67 L423.67 518 L427 518 L430.33 518 L433.67 520 L437 519.33 L440.33 522 L443.67 522.67 L447 525.33 L450.33 526 L453.67 526 L455.67 524.67 L458.07 528 L461.67 526.67 L464.33 523.33 L467 521.33 L470.33 522 L473.67 523.33 L477 521.33 L481 519.33 L484.33 519.33 L487 521.33 L489.67 520 L492.33 521.33 L495 520 L497 516.67 L499.67 515.33 L501 514.67 L503.67 514 L507 516.67 L510.33 517.33 L513 518 L515.67 515.33 L519 516 L522.33 516.67 L524.33 519.33 L528.07 515.33 L530.33 518.67 L533 518 L535.67 517.33 L538.33 515.33 L541 517.33 L544.33 516.67 L547.67 517.33 L549.67 519.33 L552.33 519.33 L555.67 522 L558.33 522.67 L561.67 523.33 L564.33 524.67 L567.67 525.33 L570.33 526.67 L571.67 524.67 L573.67 526 L577 526.67 L579 527.33 L581 526.67 L583.67 524.67 L587 522.67 L589.67 520 L591.67 521.33 L593.93 520 L596.33 524 L597.93 528.67 L599.67 532.67 L601.67 530.67 L604.6 522.67 L607 529.33 L609.67 526.67 L612.33 530.67 L615 525.33 L619 523.33 L622.33 522 L625 526 L628.33 528 L632.33 524 L635.67 522.67 L638.33 522.67 L640.33 522.67 L643 522 L646.33 516 L648.33 517.33 L652.33 516 L657 518.67 L661 518.67 L665 516.67 L669.67 516.67 L672.33 520 L676.33 519.33 L680.33 522 L683.67 519.33 L687 519.33 L690.33 518 L695 520.67 L698.33 519.33 L702.33 519.33 L706.33 518 L710.33 516.67 L713 518 L715.67 515.33 L719 514 L721.67 512 L725 514 L728.33 515.33 L729.67 512.67 L733 513.33 L736.33 514.67 L738.33 517.33 L740.33 520 L744.33 519.33 L747.67 516 L751.67 516.67 L754.33 518 L757.67 516.67 L760.33 516.67 L762.33 520 L765 516.67 L768.33 516 L770.33 514.67 L773.67 516 L777 515.33 L779.67 517.33 L783 520 L785 520.67 L788.33 518.67 L791.67 518 L795 519.33 L798.33 517.33 L800.67 518.67 L803.33 518 L806.67 519.33 L810 520.67 L813.33 520.67 L818 520.67 L821.33 520 L823.33 522.67 L829.33 523.33 L832 524.67 L836 524.67 L838 524 L842.67 524.67 L847.33 523.33 L851.33 523.33 L855.33 523.33 L861.33 522.67 L864.67 522 L868.67 522.67 L871.33 526 L875.33 527.33 L878.67 526.67 L881.33 526.67 L885.33 524.67 L889.33 523.33 L893.33 523.33 L895.33 524 L897.33 522 L900 523.33 L903.33 525.33 L906.67 526 L908.88 526.67" stroke="#d62728" stroke-width="2.08"/>
<path d="M49.13 543.67 L50.33 545 L53 544.33 L57 541.67 L62.33 541 L67.67 541 L71.67 536.33 L77 532.33 L82.33 534.33 L87.67 535 L93 542.33 L98.33 537.67 L103.67 536.33 L109 533 L117 532.33 L125 532.33 L133 533.67 L138.33 533.67 L146.33 531.67 L154.33 531 L162.33 529.67 L170.33 529 L175.67 527.67 L181 525.67 L186.33 526.33 L191.67 523.67 L195 525 L197.67 526.33 L200.33 528.33 L203.67 529 L207 530.33 L210.33 529 L213.67 530.33 L217 531 L220.33 530.33 L223 530.33 L226.33 531 L229.67 529.67 L232.33 527 L235.67 529.67 L239 531.67 L241.67 533 L245.67 532.33 L248.33 534.33 L251.67 538.33 L255 537 L257.67 535.67 L260.33 537.67 L263.67 537.67 L266.33 534.33 L269 533.67 L271.67 531 L274.33 533 L277.67 533 L281.67 534.33 L285 535 L288.33 533 L290.33 534.33 L293 533.67 L296.33 533 L300.33 535.67 L303.67 537 L307 539 L309 545.67 L310.33 550.33 L313 548.33 L315 546.33 L317.67 546.33 L320.33 546.33 L323 548.33 L324.33 547 L326.33 549.67 L329 550.33 L332.33 548.33 L335 546.33 L338.33 545 L341.67 544.33 L344.33 545.67 L347 548.33 L349.67 553 L353 552.33 L355.67 552.67 L358.33 550 L362.33 548 L365.67 544.67 L368.33 545.33 L372.33 542.67 L375 544.67 L378.33 542.67 L381.67 540 L385 538 L388.33 535.33 L391 532.67 L394.33 534.67 L397.67 536 L401 533.33 L405 532.67 L408.33 533.33 L411.67 532.67 L415 530.67 L417.67 531.33 L420.33 534 L422.07 534 L423.67 532 L427 532 L430.33 532 L433.67 534 L437 532.67 L440.33 532.67 L443.67 534.67 L447 538 L450.33 540 L453.67 540 L455.67 538.67 L458.07 540.67 L461.67 540 L464.33 536.67 L467 534 L470.33 534.67 L473.67 535.33 L477 533.33 L481 530.67 L484.33 530.67 L487 532.67 L489.67 532 L492.33 532 L495 530.67 L497 528.67 L499.67 528 L501 527.33 L503.67 526.67 L507 530 L510.33 530.67 L513 531.33 L515.67 526.67 L519 528 L522.33 528.67 L524.33 527.33 L528.07 526.67 L530.33 528 L533 529.33 L535.67 528.67 L538.33 527.33 L541 530.67 L544.33 528.67 L547.67 527.33 L549.67 530.67 L552.33 530.67 L555.67 536 L558.33 535.33 L561.67 536.67 L564.33 538 L566.33 536 L569.67 538.67 L571.67 536.67 L573.67 538 L577 538.67 L579 538.67 L581 538 L583.67 537.33 L587 535.33 L589.67 533.33 L591.67 534.67 L593.93 534.67 L596.33 538.67 L597.93 542.67 L599.67 546.67 L601.67 545.33 L604.6 538.67 L607 542.67 L609.67 541.33 L611.67 542 L613 546 L615 540 L619 538.67 L622.33 536.67 L625 540.67 L628.33 542.67 L632.33 539.33 L635.67 536.67 L638.33 538.67 L640.33 538.67 L643 537.33 L646.33 531.33 L648.33 532 L652.33 531.33 L657 532.67 L661 534 L665 532 L669.67 532.67 L672.33 535.33 L676.33 534 L680.33 538 L683.67 534.67 L687 534 L690.33 532.67 L695 536 L698.33 536.67 L702.33 536 L706.33 533.33 L710.33 532.67 L713 534 L715.67 531.33 L719 530 L721.67 527.33 L725 529.33 L728.33 532 L730.33 530 L733 531.33 L736.33 531.33 L738.33 535.33 L740.33 538.67 L744.33 536.67 L746.33 537.33 L748.33 534 L751.67 535.33 L754.33 536 L757.67 534.67 L760.33 536 L762.33 536.67 L765 534 L768.33 533.33 L770.33 532.67 L773.67 533.33 L777 532.67 L779.67 534.67 L783 537.33 L785 538.67 L788.33 538 L791.67 537.33 L795 536 L798.33 534 L800.67 535.33 L803.33 536 L807.33 537.33 L810.67 538 L813.33 538.67 L818 537.33 L820 536 L822.67 539.33 L826.67 539.33 L830 540.67 L833.33 542 L836 541.33 L838.67 539.33 L842.67 540 L847.33 538.67 L851.33 539.33 L853.33 538 L855.33 539.33 L859.33 538.67 L863.33 538.67 L867.33 538.67 L870 539.33 L873.33 541.33 L876.67 542.67 L880 542 L884 540.67 L886.67 540 L889.33 539.33 L892 538.67 L895.33 539.33 L897.33 538 L900 538.67 L903.33 540 L906.67 540 L908.88 540" stroke="#9467bd" stroke-width="2.08"/>
</g>
<path d="M56.5 636.5v4.86M164.5 636.5v4.86M271.5 636.5v4.86M380.5 636.5v4.86M489.5 636.5v4.86M595.5 636.5v4.86M703.5 636.5v4.86M812.5 636.5v4.86M921.5 636.5v4.86M47.5 636.5h-4.86M47.5 597.5h-4.86M47.5 557.5h-4.86M47.5 517.5h-4.86M47.5 477.5h-4.86" stroke="#000" stroke-width="1.11" fill="none"/>
<rect x="47.5" y="477.5" width="887.0" height="159.0" stroke="#000" stroke-width="1.11" fill="none"/>
</g>
<g id="right2">
<path d="M999.5 636.5V477.5M1058.5 636.5V477.5M1117.5 636.5V477.5M1176.5 636.5V477.5M999.5 636.5H1176.5M999.5 597.5H1176.5M999.5 557.5H1176.5M999.5 517.5H1176.5M999.5 477.5H1176.5" stroke="#b0b0b0" stroke-width="1.11" stroke-dasharray="4.1111 1.7778" fill="none"/>
<g clip-path="url(#cr2)" fill="none" stroke-linejoin="round" stroke-linecap="square">
<path d="M1028.45 535.75 L1040.27 537.34 L1058 537.34 L1117.1 525.41 L1176.2 538.93" stroke="#1f77b4" stroke-opacity="0.5" stroke-width="2.08"/>
<path d="M1028.45 536.86 L1040.27 538.45 L1058 538.45 L1117.1 526.52 L1176.2 540.04" stroke="#ff7f0e" stroke-width="3.47"/>
</g>
<path d="M999.5 636.5v4.86M1058.5 636.5v4.86M1117.5 636.5v4.86M1176.5 636.5v4.86M999.5 636.5h-4.86M999.5 597.5h-4.86M999.5 557.5h-4.86M999.5 517.5h-4.86M999.5 477.5h-4.86" stroke="#000" stroke-width="1.11" fill="none"/>
<rect x="999.5" y="477.5" width="177.0" height="159.0" stroke="#000" stroke-width="1.11" fill="none"/>
</g>
<rect x="54.5" y="44.5" width="145" height="151" rx="2.78" fill="#fff" fill-opacity="0.8" stroke="#ccc" stroke-opacity="0.8" stroke-width="1.39"/>
<path d="M59 56H87" stroke="#1f77b4" stroke-width="2.08" stroke-linecap="square"/>
<path d="M59 77H87" stroke="#ff7f0e" stroke-width="2.08" stroke-linecap="square"/>
<path d="M59 98H87" stroke="#2ca02c" stroke-width="2.08" stroke-linecap="square"/>
<path d="M59 119H87" stroke="#d62728" stroke-width="2.08" stroke-linecap="square"/>
<path d="M59 140H87" stroke="#9467bd" stroke-width="2.08" stroke-linecap="square"/>
<path d="M59 161H87" stroke="#8c564b" stroke-width="2.08" stroke-linecap="square"/>
<path d="M59 182H87" stroke="#e377c2" stroke-width="2.08" stroke-linecap="square"/>
<rect x="1050.5" y="44.5" width="119" height="46" rx="2.78" fill="#fff" fill-opacity="0.8" stroke="#ccc" stroke-opacity="0.8" stroke-width="1.39"/>
<path d="M1056 56H1083" stroke="#1f77b4" stroke-opacity="0.5" stroke-width="2.08" stroke-linecap="square"/>
<path d="M1056.5 77.5H1083.5" stroke="#ff7f0e" stroke-width="3.47" stroke-linecap="square"/>
<rect x="54.5" y="264.5" width="140" height="109" rx="2.78" fill="#fff" fill-opacity="0.8" stroke="#ccc" stroke-opacity="0.8" stroke-width="1.39"/>
<path d="M59 276H87" stroke="#1f77b4" stroke-width="2.08" stroke-linecap="square"/>
<path d="M59 297H87" stroke="#ff7f0e" stroke-width="2.08" stroke-linecap="square"/>
<path d="M59 318H87" stroke="#2ca02c" stroke-width="2.08" stroke-linecap="square"/>
<path d="M59 339H87" stroke="#d62728" stroke-width="2.08" stroke-linecap="square"/>
<path d="M59 360H87" stroke="#9467bd" stroke-width="2.08" stroke-linecap="square"/>
<rect x="1050.5" y="363.5" width="119" height="46" rx="2.78" fill="#fff" fill-opacity="0.8" stroke="#ccc" stroke-opacity="0.8" stroke-width="1.39"/>
<path d="M1056 375H1083" stroke="#1f77b4" stroke-opacity="0.5" stroke-width="2.08" stroke-linecap="square"/>
<path d="M1056.5 396.5H1083.5" stroke="#ff7f0e" stroke-width="3.47" stroke-linecap="square"/>
<rect x="54.5" y="484.5" width="140" height="109" rx="2.78" fill="#fff" fill-opacity="0.8" stroke="#ccc" stroke-opacity="0.8" stroke-width="1.39"/>
<path d="M59 496H87" stroke="#1f77b4" stroke-width="2.08" stroke-linecap="square"/>
<path d="M59 517H87" stroke="#ff7f0e" stroke-width="2.08" stroke-linecap="square"/>
<path d="M59 538H87" stroke="#2ca02c" stroke-width="2.08" stroke-linecap="square"/>
<path d="M59 559H87" stroke="#d62728" stroke-width="2.08" stroke-linecap="square"/>
<path d="M59 580H87" stroke="#9467bd" stroke-width="2.08" stroke-linecap="square"/>
<rect x="1006.5" y="583.5" width="119" height="46" rx="2.78" fill="#fff" fill-opacity="0.8" stroke="#ccc" stroke-opacity="0.8" stroke-width="1.39"/>
<path d="M1011 595H1039" stroke="#1f77b4" stroke-opacity="0.5" stroke-width="2.08" stroke-linecap="square"/>
<path d="M1011.5 616.5H1039.5" stroke="#ff7f0e" stroke-width="3.47" stroke-linecap="square"/>
<g filter="url(#ga)">
<text y="28.62" font-size="16.67" fill="#080808"><tspan x="307.92" font-size="17.67" textLength="10.28" lengthAdjust="spacingAndGlyphs">T</tspan><tspan x="318.05" font-size="17.67" textLength="11.74" lengthAdjust="spacingAndGlyphs">R</tspan><tspan x="329.52" font-size="17.67" textLength="10.84" lengthAdjust="spacingAndGlyphs">E</tspan><tspan x="340.18" font-size="17.67" textLength="11.4" lengthAdjust="spacingAndGlyphs">A</tspan><tspan x="351.42" font-size="17.67" textLength="10.84" lengthAdjust="spacingAndGlyphs">S</tspan><tspan x="362.11" font-size="17.67" textLength="12.2" lengthAdjust="spacingAndGlyphs">U</tspan><tspan x="374.2" font-size="17.67" textLength="11.74" lengthAdjust="spacingAndGlyphs">R</tspan><tspan x="384.5" font-size="17.67" textLength="10.84" lengthAdjust="spacingAndGlyphs">Y</tspan> <tspan x="399.94" font-size="17.67" textLength="10.84" lengthAdjust="spacingAndGlyphs">Y</tspan><tspan x="410.42" font-size="17.67" textLength="4.91" lengthAdjust="spacingAndGlyphs">I</tspan><tspan x="415.17" font-size="17.67" textLength="10.84" lengthAdjust="spacingAndGlyphs">E</tspan><tspan x="425.83" font-size="17.67" textLength="9.29" lengthAdjust="spacingAndGlyphs">L</tspan><tspan x="435.09" font-size="17.67" textLength="12.84" lengthAdjust="spacingAndGlyphs">D</tspan> <tspan x="453.47" font-size="17.75" textLength="5.92" lengthAdjust="spacingAndGlyphs">[</tspan><tspan x="459.66" font-size="17.75" textLength="10.6" lengthAdjust="spacingAndGlyphs">2</tspan><tspan x="470.24" font-size="17.75" textLength="10.6" lengthAdjust="spacingAndGlyphs">0</tspan><tspan x="480.82" font-size="17.75" textLength="10.6" lengthAdjust="spacingAndGlyphs">2</tspan><tspan x="491.4" font-size="17.75" textLength="10.6" lengthAdjust="spacingAndGlyphs">3</tspan><tspan x="501.97" font-size="17.75" textLength="5.3" lengthAdjust="spacingAndGlyphs">.</tspan><tspan x="507.26" font-size="17.75" textLength="10.6" lengthAdjust="spacingAndGlyphs">1</tspan><tspan x="517.83" font-size="17.75" textLength="10.6" lengthAdjust="spacingAndGlyphs">2</tspan><tspan x="528.41" font-size="17.75" textLength="5.3" lengthAdjust="spacingAndGlyphs">.</tspan><tspan x="533.7" font-size="17.75" textLength="10.6" lengthAdjust="spacingAndGlyphs">2</tspan><tspan x="544.27" font-size="17.75" textLength="10.6" lengthAdjust="spacingAndGlyphs">6</tspan> <tspan x="560.14" font-size="17.75" textLength="6.02" lengthAdjust="spacingAndGlyphs">-</tspan> <tspan x="571.42" font-size="17.75" textLength="10.6" lengthAdjust="spacingAndGlyphs">2</tspan><tspan x="582" font-size="17.75" textLength="10.6" lengthAdjust="spacingAndGlyphs">0</tspan><tspan x="592.57" font-size="17.75" textLength="10.6" lengthAdjust="spacingAndGlyphs">2</tspan><tspan x="603.15" font-size="17.75" textLength="10.6" lengthAdjust="spacingAndGlyphs">5</tspan><tspan x="613.73" font-size="17.75" textLength="5.3" lengthAdjust="spacingAndGlyphs">.</tspan><tspan x="619.01" font-size="17.75" textLength="10.6" lengthAdjust="spacingAndGlyphs">1</tspan><tspan x="629.59" font-size="17.75" textLength="10.6" lengthAdjust="spacingAndGlyphs">2</tspan><tspan x="640.17" font-size="17.75" textLength="5.3" lengthAdjust="spacingAndGlyphs">.</tspan><tspan x="645.45" font-size="17.75" textLength="10.6" lengthAdjust="spacingAndGlyphs">2</tspan><tspan x="656.03" font-size="17.75" textLength="10.6" lengthAdjust="spacingAndGlyphs">2</tspan><tspan x="666.9" font-size="17.75" textLength="5.92" lengthAdjust="spacingAndGlyphs">]</tspan></text>
<text y="216.52" font-size="13.89" fill="#0d0d0d"><tspan x="26.72" font-size="14.79" textLength="8.84" lengthAdjust="spacingAndGlyphs">2</tspan><tspan x="35.55" font-size="14.79" textLength="8.84" lengthAdjust="spacingAndGlyphs">0</tspan><tspan x="44.38" font-size="14.79" textLength="8.84" lengthAdjust="spacingAndGlyphs">2</tspan><tspan x="53.21" font-size="14.79" textLength="8.84" lengthAdjust="spacingAndGlyphs">4</tspan><tspan x="62.04" font-size="14.79" textLength="5.01" lengthAdjust="spacingAndGlyphs">-</tspan><tspan x="67.04" font-size="14.79" textLength="8.84" lengthAdjust="spacingAndGlyphs">0</tspan><tspan x="75.87" font-size="14.79" textLength="8.84" lengthAdjust="spacingAndGlyphs">1</tspan></text>
<text y="216.52" font-size="13.89" fill="#0d0d0d"><tspan x="134.65" font-size="14.79" textLength="8.84" lengthAdjust="spacingAndGlyphs">2</tspan><tspan x="143.48" font-size="14.79" textLength="8.84" lengthAdjust="spacingAndGlyphs">0</tspan><tspan x="152.31" font-size="14.79" textLength="8.84" lengthAdjust="spacingAndGlyphs">2</tspan><tspan x="161.14" font-size="14.79" textLength="8.84" lengthAdjust="spacingAndGlyphs">4</tspan><tspan x="169.96" font-size="14.79" textLength="5.01" lengthAdjust="spacingAndGlyphs">-</tspan><tspan x="174.97" font-size="14.79" textLength="8.84" lengthAdjust="spacingAndGlyphs">0</tspan><tspan x="183.8" font-size="14.79" textLength="8.84" lengthAdjust="spacingAndGlyphs">4</tspan></text>
<text y="216.52" font-size="13.89" fill="#0d0d0d"><tspan x="242.77" font-size="14.79" textLength="8.84" lengthAdjust="spacingAndGlyphs">2</tspan><tspan x="251.6" font-size="14.79" textLength="8.84" lengthAdjust="spacingAndGlyphs">0</tspan><tspan x="260.43" font-size="14.79" textLength="8.84" lengthAdjust="spacingAndGlyphs">2</tspan><tspan x="269.25" font-size="14.79" textLength="8.84" lengthAdjust="spacingAndGlyphs">4</tspan><tspan x="278.08" font-size="14.79" textLength="5.01" lengthAdjust="spacingAndGlyphs">-</tspan><tspan x="283.09" font-size="14.79" textLength="8.84" lengthAdjust="spacingAndGlyphs">0</tspan><tspan x="291.92" font-size="14.79" textLength="8.84" lengthAdjust="spacingAndGlyphs">7</tspan></text>
<text y="216.52" font-size="13.89" fill="#0d0d0d"><tspan x="351.76" font-size="14.79" textLength="8.84" lengthAdjust="spacingAndGlyphs">2</tspan><tspan x="360.34" font-size="14.79" textLength="8.84" lengthAdjust="spacingAndGlyphs">0</tspan><tspan x="369.16" font-size="14.79" textLength="8.84" lengthAdjust="spacingAndGlyphs">2</tspan><tspan x="377.99" font-size="14.79" textLength="8.84" lengthAdjust="spacingAndGlyphs">4</tspan><tspan x="386.82" font-size="14.79" textLength="5.01" lengthAdjust="spacingAndGlyphs">-</tspan><tspan x="391.82" font-size="14.79" textLength="8.84" lengthAdjust="spacingAndGlyphs">1</tspan><tspan x="400.65" font-size="14.79" textLength="8.84" lengthAdjust="spacingAndGlyphs">0</tspan></text>
<text y="216.52" font-size="13.89" fill="#0d0d0d"><tspan x="459.81" font-size="14.79" textLength="8.84" lengthAdjust="spacingAndGlyphs">2</tspan><tspan x="468.63" font-size="14.79" textLength="8.84" lengthAdjust="spacingAndGlyphs">0</tspan><tspan x="477.46" font-size="14.79" textLength="8.84" lengthAdjust="spacingAndGlyphs">2</tspan><tspan x="486.29" font-size="14.79" textLength="8.84" lengthAdjust="spacingAndGlyphs">5</tspan><tspan x="495.12" font-size="14.79" textLength="5.01" lengthAdjust="spacingAndGlyphs">-</tspan><tspan x="500.12" font-size="14.79" textLength="8.84" lengthAdjust="spacingAndGlyphs">0</tspan><tspan x="508.95" font-size="14.79" textLength="8.84" lengthAdjust="spacingAndGlyphs">1</tspan></text>
<text y="216.52" font-size="13.89" fill="#0d0d0d"><tspan x="566.8" font-size="14.79" textLength="8.84" lengthAdjust="spacingAndGlyphs">2</tspan><tspan x="575.38" font-size="14.79" textLength="8.84" lengthAdjust="spacingAndGlyphs">0</tspan><tspan x="584.21" font-size="14.79" textLength="8.84" lengthAdjust="spacingAndGlyphs">2</tspan><tspan x="593.04" font-size="14.79" textLength="8.84" lengthAdjust="spacingAndGlyphs">5</tspan><tspan x="601.86" font-size="14.79" textLength="5.01" lengthAdjust="spacingAndGlyphs">-</tspan><tspan x="606.87" font-size="14.79" textLength="8.84" lengthAdjust="spacingAndGlyphs">0</tspan><tspan x="615.7" font-size="14.79" textLength="8.84" lengthAdjust="spacingAndGlyphs">4</tspan></text>
<text y="216.52" font-size="13.89" fill="#0d0d0d"><tspan x="673.67" font-size="14.79" textLength="8.84" lengthAdjust="spacingAndGlyphs">2</tspan><tspan x="682.5" font-size="14.79" textLength="8.84" lengthAdjust="spacingAndGlyphs">0</tspan><tspan x="691.33" font-size="14.79" textLength="8.84" lengthAdjust="spacingAndGlyphs">2</tspan><tspan x="700.15" font-size="14.79" textLength="8.84" lengthAdjust="spacingAndGlyphs">5</tspan><tspan x="708.98" font-size="14.79" textLength="5.01" lengthAdjust="spacingAndGlyphs">-</tspan><tspan x="713.99" font-size="14.79" textLength="8.84" lengthAdjust="spacingAndGlyphs">0</tspan><tspan x="722.81" font-size="14.79" textLength="8.84" lengthAdjust="spacingAndGlyphs">7</tspan></text>
<text y="216.52" font-size="13.89" fill="#0d0d0d"><tspan x="782.66" font-size="14.79" textLength="8.84" lengthAdjust="spacingAndGlyphs">2</tspan><tspan x="791.48" font-size="14.79" textLength="8.84" lengthAdjust="spacingAndGlyphs">0</tspan><tspan x="800.31" font-size="14.79" textLength="8.84" lengthAdjust="spacingAndGlyphs">2</tspan><tspan x="809.14" font-size="14.79" textLength="8.84" lengthAdjust="spacingAndGlyphs">5</tspan><tspan x="817.97" font-size="14.79" textLength="5.01" lengthAdjust="spacingAndGlyphs">-</tspan><tspan x="822.97" font-size="14.79" textLength="8.84" lengthAdjust="spacingAndGlyphs">1</tspan><tspan x="831.8" font-size="14.79" textLength="8.84" lengthAdjust="spacingAndGlyphs">0</tspan></text>
<text y="216.52" font-size="13.89" fill="#0d0d0d"><tspan x="891.89" font-size="14.79" textLength="8.84" lengthAdjust="spacingAndGlyphs">2</tspan><tspan x="900.47" font-size="14.79" textLength="8.84" lengthAdjust="spacingAndGlyphs">0</tspan><tspan x="909.3" font-size="14.79" textLength="8.84" lengthAdjust="spacingAndGlyphs">2</tspan><tspan x="918.13" font-size="14.79" textLength="8.84" lengthAdjust="spacingAndGlyphs">6</tspan><tspan x="926.95" font-size="14.79" textLength="5.01" lengthAdjust="spacingAndGlyphs">-</tspan><tspan x="931.96" font-size="14.79" textLength="8.84" lengthAdjust="spacingAndGlyphs">0</tspan><tspan x="940.79" font-size="14.79" textLength="8.84" lengthAdjust="spacingAndGlyphs">1</tspan></text>
<text y="201.55" font-size="13.89" fill="#0f0f0f"><tspan x="27.73" font-size="14.79" textLength="8.84" lengthAdjust="spacingAndGlyphs">3</tspan></text>
<text y="147.77" font-size="13.89" fill="#0f0f0f"><tspan x="28.73" font-size="14.79" textLength="8.84" lengthAdjust="spacingAndGlyphs">4</tspan></text>
<text y="95.73" font-size="13.89" fill="#0f0f0f"><tspan x="27.48" font-size="14.79" textLength="8.84" lengthAdjust="spacingAndGlyphs">5</tspan></text>
<text y="42.7" font-size="13.89" fill="#0f0f0f"><tspan x="28.1" font-size="14.79" textLength="8.84" lengthAdjust="spacingAndGlyphs">6</tspan></text>
<text y="60.7" font-size="13.89" fill="#0f0f0f"><tspan x="98.84" font-size="14.79" textLength="8.84" lengthAdjust="spacingAndGlyphs">1</tspan><tspan x="106.67" font-size="14.44" textLength="13.53" lengthAdjust="spacingAndGlyphs">m</tspan><tspan x="120.18" font-size="14.44" textLength="8.5" lengthAdjust="spacingAndGlyphs">o</tspan><tspan x="128.67" font-size="14.44" textLength="8.81" lengthAdjust="spacingAndGlyphs">n</tspan><tspan x="137.78" font-size="14.44" textLength="4.82" lengthAdjust="spacingAndGlyphs">t</tspan><tspan x="142.91" font-size="14.44" textLength="8.81" lengthAdjust="spacingAndGlyphs">h</tspan><tspan x="151.7" font-size="14.79" textLength="5.42" lengthAdjust="spacingAndGlyphs">(</tspan><tspan x="157.11" font-size="14.79" textLength="8.84" lengthAdjust="spacingAndGlyphs">3</tspan><tspan x="165.94" font-size="14.79" textLength="4.41" lengthAdjust="spacingAndGlyphs">.</tspan><tspan x="170.35" font-size="14.79" textLength="8.84" lengthAdjust="spacingAndGlyphs">7</tspan><tspan x="179.18" font-size="14.79" textLength="8.84" lengthAdjust="spacingAndGlyphs">2</tspan><tspan x="188.01" font-size="14.79" textLength="5.42" lengthAdjust="spacingAndGlyphs">)</tspan></text>
<text y="81.64" font-size="13.89" fill="#0f0f0f"><tspan x="99.09" font-size="14.79" textLength="8.84" lengthAdjust="spacingAndGlyphs">1</tspan><tspan x="106.92" font-size="14.44" textLength="8.22" lengthAdjust="spacingAndGlyphs">y</tspan><tspan x="115.13" font-size="14.44" textLength="8.54" lengthAdjust="spacingAndGlyphs">e</tspan><tspan x="123.66" font-size="14.44" textLength="8.51" lengthAdjust="spacingAndGlyphs">a</tspan><tspan x="132.17" font-size="14.44" textLength="5.72" lengthAdjust="spacingAndGlyphs">r</tspan><tspan x="137.87" font-size="14.79" textLength="5.42" lengthAdjust="spacingAndGlyphs">(</tspan><tspan x="143.28" font-size="14.79" textLength="8.84" lengthAdjust="spacingAndGlyphs">3</tspan><tspan x="152.11" font-size="14.79" textLength="4.41" lengthAdjust="spacingAndGlyphs">.</tspan><tspan x="156.52" font-size="14.79" textLength="8.84" lengthAdjust="spacingAndGlyphs">5</tspan><tspan x="165.35" font-size="14.79" textLength="8.84" lengthAdjust="spacingAndGlyphs">3</tspan><tspan x="174.18" font-size="14.79" textLength="5.42" lengthAdjust="spacingAndGlyphs">)</tspan></text>
<text y="102.59" font-size="13.89" fill="#0f0f0f"><tspan x="97.59" font-size="14.79" textLength="8.84" lengthAdjust="spacingAndGlyphs">5</tspan><tspan x="105.92" font-size="14.44" textLength="8.22" lengthAdjust="spacingAndGlyphs">y</tspan><tspan x="114.13" font-size="14.44" textLength="8.54" lengthAdjust="spacingAndGlyphs">e</tspan><tspan x="122.66" font-size="14.44" textLength="8.51" lengthAdjust="spacingAndGlyphs">a</tspan><tspan x="131.17" font-size="14.44" textLength="5.72" lengthAdjust="spacingAndGlyphs">r</tspan><tspan x="136.87" font-size="14.79" textLength="5.42" lengthAdjust="spacingAndGlyphs">(</tspan><tspan x="142.28" font-size="14.79" textLength="8.84" lengthAdjust="spacingAndGlyphs">3</tspan><tspan x="151.11" font-size="14.79" textLength="4.41" lengthAdjust="spacingAndGlyphs">.</tspan><tspan x="155.52" font-size="14.79" textLength="8.84" lengthAdjust="spacingAndGlyphs">7</tspan><tspan x="164.35" font-size="14.79" textLength="8.84" lengthAdjust="spacingAndGlyphs">1</tspan><tspan x="173.18" font-size="14.79" textLength="5.42" lengthAdjust="spacingAndGlyphs">)</tspan></text>
<text y="123.53" font-size="13.89" fill="#0f0f0f"><tspan x="98.09" font-size="14.79" textLength="8.84" lengthAdjust="spacingAndGlyphs">7</tspan><tspan x="105.92" font-size="14.44" textLength="8.22" lengthAdjust="spacingAndGlyphs">y</tspan><tspan x="114.13" font-size="14.44" textLength="8.54" lengthAdjust="spacingAndGlyphs">e</tspan><tspan x="122.66" font-size="14.44" textLength="8.51" lengthAdjust="spacingAndGlyphs">a</tspan><tspan x="131.17" font-size="14.44" textLength="5.72" lengthAdjust="spacingAndGlyphs">r</tspan><tspan x="136.87" font-size="14.79" textLength="5.42" lengthAdjust="spacingAndGlyphs">(</tspan><tspan x="142.28" font-size="14.79" textLength="8.84" lengthAdjust="spacingAndGlyphs">3</tspan><tspan x="151.11" font-size="14.79" textLength="4.41" lengthAdjust="spacingAndGlyphs">.</tspan><tspan x="155.52" font-size="14.79" textLength="8.84" lengthAdjust="spacingAndGlyphs">9</tspan><tspan x="164.35" font-size="14.79" textLength="8.84" lengthAdjust="spacingAndGlyphs">3</tspan><tspan x="173.18" font-size="14.79" textLength="5.42" lengthAdjust="spacingAndGlyphs">)</tspan></text>
<text y="143.73" font-size="13.89" fill="#0f0f0f"><tspan x="99.09" font-size="14.79" textLength="8.84" lengthAdjust="spacingAndGlyphs">1</tspan><tspan x="106.92" font-size="14.79" textLength="8.84" lengthAdjust="spacingAndGlyphs">0</tspan><tspan x="115.74" font-size="14.44" textLength="8.22" lengthAdjust="spacingAndGlyphs">y</tspan><tspan x="123.96" font-size="14.44" textLength="8.54" lengthAdjust="spacingAndGlyphs">e</tspan><tspan x="132.49" font-size="14.44" textLength="8.51" lengthAdjust="spacingAndGlyphs">a</tspan><tspan x="140.99" font-size="14.44" textLength="5.72" lengthAdjust="spacingAndGlyphs">r</tspan><tspan x="146.7" font-size="14.79" textLength="5.42" lengthAdjust="spacingAndGlyphs">(</tspan><tspan x="152.11" font-size="14.79" textLength="8.84" lengthAdjust="spacingAndGlyphs">4</tspan><tspan x="160.94" font-size="14.79" textLength="4.41" lengthAdjust="spacingAndGlyphs">.</tspan><tspan x="165.35" font-size="14.79" textLength="8.84" lengthAdjust="spacingAndGlyphs">1</tspan><tspan x="174.18" font-size="14.79" textLength="8.84" lengthAdjust="spacingAndGlyphs">7</tspan><tspan x="183.01" font-size="14.79" textLength="5.42" lengthAdjust="spacingAndGlyphs">)</tspan></text>
<text y="164.67" font-size="13.89" fill="#0f0f0f"><tspan x="97.84" font-size="14.79" textLength="8.84" lengthAdjust="spacingAndGlyphs">2</tspan><tspan x="106.67" font-size="14.79" textLength="8.84" lengthAdjust="spacingAndGlyphs">0</tspan><tspan x="115.49" font-size="14.44" textLength="8.22" lengthAdjust="spacingAndGlyphs">y</tspan><tspan x="123.71" font-size="14.44" textLength="8.54" lengthAdjust="spacingAndGlyphs">e</tspan><tspan x="132.24" font-size="14.44" textLength="8.51" lengthAdjust="spacingAndGlyphs">a</tspan><tspan x="140.74" font-size="14.44" textLength="5.72" lengthAdjust="spacingAndGlyphs">r</tspan><tspan x="146.45" font-size="14.79" textLength="5.42" lengthAdjust="spacingAndGlyphs">(</tspan><tspan x="151.86" font-size="14.79" textLength="8.84" lengthAdjust="spacingAndGlyphs">4</tspan><tspan x="160.69" font-size="14.79" textLength="4.41" lengthAdjust="spacingAndGlyphs">.</tspan><tspan x="165.1" font-size="14.79" textLength="8.84" lengthAdjust="spacingAndGlyphs">7</tspan><tspan x="173.93" font-size="14.79" textLength="8.84" lengthAdjust="spacingAndGlyphs">8</tspan><tspan x="182.76" font-size="14.79" textLength="5.42" lengthAdjust="spacingAndGlyphs">)</tspan></text>
<text y="185.62" font-size="13.89" fill="#0f0f0f"><tspan x="97.84" font-size="14.79" textLength="8.84" lengthAdjust="spacingAndGlyphs">3</tspan><tspan x="105.67" font-size="14.79" textLength="8.84" lengthAdjust="spacingAndGlyphs">0</tspan><tspan x="114.49" font-size="14.44" textLength="8.22" lengthAdjust="spacingAndGlyphs">y</tspan><tspan x="122.71" font-size="14.44" textLength="8.54" lengthAdjust="spacingAndGlyphs">e</tspan><tspan x="131.24" font-size="14.44" textLength="8.51" lengthAdjust="spacingAndGlyphs">a</tspan><tspan x="139.74" font-size="14.44" textLength="5.72" lengthAdjust="spacingAndGlyphs">r</tspan><tspan x="145.45" font-size="14.79" textLength="5.42" lengthAdjust="spacingAndGlyphs">(</tspan><tspan x="150.86" font-size="14.79" textLength="8.84" lengthAdjust="spacingAndGlyphs">4</tspan><tspan x="159.69" font-size="14.79" textLength="4.41" lengthAdjust="spacingAndGlyphs">.</tspan><tspan x="164.1" font-size="14.79" textLength="8.84" lengthAdjust="spacingAndGlyphs">8</tspan><tspan x="172.93" font-size="14.79" textLength="8.84" lengthAdjust="spacingAndGlyphs">4</tspan><tspan x="181.76" font-size="14.79" textLength="5.42" lengthAdjust="spacingAndGlyphs">)</tspan></text>
<text y="216.52" font-size="13.89" fill="#0d0d0d"><tspan x="995.02" font-size="14.79" textLength="8.84" lengthAdjust="spacingAndGlyphs">0</tspan></text>
<text y="216.52" font-size="13.89" fill="#0d0d0d"><tspan x="1049.94" font-size="14.79" textLength="8.84" lengthAdjust="spacingAndGlyphs">1</tspan><tspan x="1058.02" font-size="14.79" textLength="8.84" lengthAdjust="spacingAndGlyphs">0</tspan></text>
<text y="216.52" font-size="13.89" fill="#0d0d0d"><tspan x="1107.85" font-size="14.79" textLength="8.84" lengthAdjust="spacingAndGlyphs">2</tspan><tspan x="1116.68" font-size="14.79" textLength="8.84" lengthAdjust="spacingAndGlyphs">0</tspan></text>
<text y="216.52" font-size="13.89" fill="#0d0d0d"><tspan x="1167.7" font-size="14.79" textLength="8.84" lengthAdjust="spacingAndGlyphs">3</tspan><tspan x="1176.03" font-size="14.79" textLength="8.84" lengthAdjust="spacingAndGlyphs">0</tspan></text>
<text y="201.55" font-size="13.89" fill="#0f0f0f"><tspan x="979.68" font-size="14.79" textLength="8.84" lengthAdjust="spacingAndGlyphs">3</tspan></text>
<text y="147.77" font-size="13.89" fill="#0f0f0f"><tspan x="980.68" font-size="14.79" textLength="8.84" lengthAdjust="spacingAndGlyphs">4</tspan></text>
<text y="95.73" font-size="13.89" fill="#0f0f0f"><tspan x="979.43" font-size="14.79" textLength="8.84" lengthAdjust="spacingAndGlyphs">5</tspan></text>
<text y="42.7" font-size="13.89" fill="#0f0f0f"><tspan x="980.05" font-size="14.79" textLength="8.84" lengthAdjust="spacingAndGlyphs">6</tspan></text>
<text y="60.7" font-size="13.89" fill="#0f0f0f"><tspan x="1095.08" font-size="14.44" textLength="8.22" lengthAdjust="spacingAndGlyphs">y</tspan><tspan x="1102.29" font-size="14.44" textLength="8.54" lengthAdjust="spacingAndGlyphs">e</tspan><tspan x="1110.82" font-size="14.44" textLength="7.24" lengthAdjust="spacingAndGlyphs">s</tspan><tspan x="1118.36" font-size="14.44" textLength="4.82" lengthAdjust="spacingAndGlyphs">t</tspan><tspan x="1123.49" font-size="14.44" textLength="8.54" lengthAdjust="spacingAndGlyphs">e</tspan><tspan x="1132.03" font-size="14.44" textLength="5.72" lengthAdjust="spacingAndGlyphs">r</tspan><tspan x="1137.48" font-size="14.44" textLength="8.82" lengthAdjust="spacingAndGlyphs">d</tspan><tspan x="1146.29" font-size="14.44" textLength="8.51" lengthAdjust="spacingAndGlyphs">a</tspan><tspan x="1154.79" font-size="14.44" textLength="8.22" lengthAdjust="spacingAndGlyphs">y</tspan></text>
<text y="81.64" font-size="13.89" fill="#0f0f0f"><tspan x="1094.89" font-size="14.44" textLength="4.82" lengthAdjust="spacingAndGlyphs">t</tspan><tspan x="1099.52" font-size="14.44" textLength="8.5" lengthAdjust="spacingAndGlyphs">o</tspan><tspan x="1108" font-size="14.44" textLength="8.82" lengthAdjust="spacingAndGlyphs">d</tspan><tspan x="1116.81" font-size="14.44" textLength="8.51" lengthAdjust="spacingAndGlyphs">a</tspan><tspan x="1125.31" font-size="14.44" textLength="8.22" lengthAdjust="spacingAndGlyphs">y</tspan></text>
<text y="248.62" font-size="16.67" fill="#080808"><tspan x="396.04" font-size="17.67" textLength="10.28" lengthAdjust="spacingAndGlyphs">T</tspan><tspan x="406.17" font-size="17.67" textLength="11.74" lengthAdjust="spacingAndGlyphs">R</tspan><tspan x="417.65" font-size="17.67" textLength="10.84" lengthAdjust="spacingAndGlyphs">E</tspan><tspan x="428.31" font-size="17.67" textLength="11.4" lengthAdjust="spacingAndGlyphs">A</tspan><tspan x="439.55" font-size="17.67" textLength="10.84" lengthAdjust="spacingAndGlyphs">S</tspan><tspan x="450.23" font-size="17.67" textLength="12.2" lengthAdjust="spacingAndGlyphs">U</tspan><tspan x="462.32" font-size="17.67" textLength="11.74" lengthAdjust="spacingAndGlyphs">R</tspan><tspan x="472.62" font-size="17.67" textLength="10.84" lengthAdjust="spacingAndGlyphs">Y</tspan> <tspan x="488.32" font-size="17.67" textLength="11.74" lengthAdjust="spacingAndGlyphs">R</tspan><tspan x="499.79" font-size="17.67" textLength="10.84" lengthAdjust="spacingAndGlyphs">E</tspan><tspan x="510.45" font-size="17.67" textLength="11.4" lengthAdjust="spacingAndGlyphs">A</tspan><tspan x="521.82" font-size="17.67" textLength="9.29" lengthAdjust="spacingAndGlyphs">L</tspan> <tspan x="536.04" font-size="17.67" textLength="10.84" lengthAdjust="spacingAndGlyphs">Y</tspan><tspan x="546.52" font-size="17.67" textLength="4.91" lengthAdjust="spacingAndGlyphs">I</tspan><tspan x="551.27" font-size="17.67" textLength="10.84" lengthAdjust="spacingAndGlyphs">E</tspan><tspan x="561.93" font-size="17.67" textLength="9.29" lengthAdjust="spacingAndGlyphs">L</tspan><tspan x="571.19" font-size="17.67" textLength="12.84" lengthAdjust="spacingAndGlyphs">D</tspan></text>
<text y="436.52" font-size="13.89" fill="#0d0d0d"><tspan x="26.72" font-size="14.79" textLength="8.84" lengthAdjust="spacingAndGlyphs">2</tspan><tspan x="35.55" font-size="14.79" textLength="8.84" lengthAdjust="spacingAndGlyphs">0</tspan><tspan x="44.38" font-size="14.79" textLength="8.84" lengthAdjust="spacingAndGlyphs">2</tspan><tspan x="53.21" font-size="14.79" textLength="8.84" lengthAdjust="spacingAndGlyphs">4</tspan><tspan x="62.04" font-size="14.79" textLength="5.01" lengthAdjust="spacingAndGlyphs">-</tspan><tspan x="67.04" font-size="14.79" textLength="8.84" lengthAdjust="spacingAndGlyphs">0</tspan><tspan x="75.87" font-size="14.79" textLength="8.84" lengthAdjust="spacingAndGlyphs">1</tspan></text>
<text y="436.52" font-size="13.89" fill="#0d0d0d"><tspan x="134.65" font-size="14.79" textLength="8.84" lengthAdjust="spacingAndGlyphs">2</tspan><tspan x="143.48" font-size="14.79" textLength="8.84" lengthAdjust="spacingAndGlyphs">0</tspan><tspan x="152.31" font-size="14.79" textLength="8.84" lengthAdjust="spacingAndGlyphs">2</tspan><tspan x="161.14" font-size="14.79" textLength="8.84" lengthAdjust="spacingAndGlyphs">4</tspan><tspan x="169.96" font-size="14.79" textLength="5.01" lengthAdjust="spacingAndGlyphs">-</tspan><tspan x="174.97" font-size="14.79" textLength="8.84" lengthAdjust="spacingAndGlyphs">0</tspan><tspan x="183.8" font-size="14.79" textLength="8.84" lengthAdjust="spacingAndGlyphs">4</tspan></text>
<text y="436.52" font-size="13.89" fill="#0d0d0d"><tspan x="242.77" font-size="14.79" textLength="8.84" lengthAdjust="spacingAndGlyphs">2</tspan><tspan x="251.6" font-size="14.79" textLength="8.84" lengthAdjust="spacingAndGlyphs">0</tspan><tspan x="260.43" font-size="14.79" textLength="8.84" lengthAdjust="spacingAndGlyphs">2</tspan><tspan x="269.25" font-size="14.79" textLength="8.84" lengthAdjust="spacingAndGlyphs">4</tspan><tspan x="278.08" font-size="14.79" textLength="5.01" lengthAdjust="spacingAndGlyphs">-</tspan><tspan x="283.09" font-size="14.79" textLength="8.84" lengthAdjust="spacingAndGlyphs">0</tspan><tspan x="291.92" font-size="14.79" textLength="8.84" lengthAdjust="spacingAndGlyphs">7</tspan></text>
<text y="436.52" font-size="13.89" fill="#0d0d0d"><tspan x="351.76" font-size="14.79" textLength="8.84" lengthAdjust="spacingAndGlyphs">2</tspan><tspan x="360.34" font-size="14.79" textLength="8.84" lengthAdjust="spacingAndGlyphs">0</tspan><tspan x="369.16" font-size="14.79" textLength="8.84" lengthAdjust="spacingAndGlyphs">2</tspan><tspan x="377.99" font-size="14.79" textLength="8.84" lengthAdjust="spacingAndGlyphs">4</tspan><tspan x="386.82" font-size="14.79" textLength="5.01" lengthAdjust="spacingAndGlyphs">-</tspan><tspan x="391.82" font-size="14.79" textLength="8.84" lengthAdjust="spacingAndGlyphs">1</tspan><tspan x="400.65" font-size="14.79" textLength="8.84" lengthAdjust="spacingAndGlyphs">0</tspan></text>
<text y="436.52" font-size="13.89" fill="#0d0d0d"><tspan x="459.81" font-size="14.79" textLength="8.84" lengthAdjust="spacingAndGlyphs">2</tspan><tspan x="468.63" font-size="14.79" textLength="8.84" lengthAdjust="spacingAndGlyphs">0</tspan><tspan x="477.46" font-size="14.79" textLength="8.84" lengthAdjust="spacingAndGlyphs">2</tspan><tspan x="486.29" font-size="14.79" textLength="8.84" lengthAdjust="spacingAndGlyphs">5</tspan><tspan x="495.12" font-size="14.79" textLength="5.01" lengthAdjust="spacingAndGlyphs">-</tspan><tspan x="500.12" font-size="14.79" textLength="8.84" lengthAdjust="spacingAndGlyphs">0</tspan><tspan x="508.95" font-size="14.79" textLength="8.84" lengthAdjust="spacingAndGlyphs">1</tspan></text>
<text y="436.52" font-size="13.89" fill="#0d0d0d"><tspan x="566.8" font-size="14.79" textLength="8.84" lengthAdjust="spacingAndGlyphs">2</tspan><tspan x="575.38" font-size="14.79" textLength="8.84" lengthAdjust="spacingAndGlyphs">0</tspan><tspan x="584.21" font-size="14.79" textLength="8.84" lengthAdjust="spacingAndGlyphs">2</tspan><tspan x="593.04" font-size="14.79" textLength="8.84" lengthAdjust="spacingAndGlyphs">5</tspan><tspan x="601.86" font-size="14.79" textLength="5.01" lengthAdjust="spacingAndGlyphs">-</tspan><tspan x="606.87" font-size="14.79" textLength="8.84" lengthAdjust="spacingAndGlyphs">0</tspan><tspan x="615.7" font-size="14.79" textLength="8.84" lengthAdjust="spacingAndGlyphs">4</tspan></text>
<text y="436.52" font-size="13.89" fill="#0d0d0d"><tspan x="673.67" font-size="14.79" textLength="8.84" lengthAdjust="spacingAndGlyphs">2</tspan><tspan x="682.5" font-size="14.79" textLength="8.84" lengthAdjust="spacingAndGlyphs">0</tspan><tspan x="691.33" font-size="14.79" textLength="8.84" lengthAdjust="spacingAndGlyphs">2</tspan><tspan x="700.15" font-size="14.79" textLength="8.84" lengthAdjust="spacingAndGlyphs">5</tspan><tspan x="708.98" font-size="14.79" textLength="5.01" lengthAdjust="spacingAndGlyphs">-</tspan><tspan x="713.99" font-size="14.79" textLength="8.84" lengthAdjust="spacingAndGlyphs">0</tspan><tspan x="722.81" font-size="14.79" textLength="8.84" lengthAdjust="spacingAndGlyphs">7</tspan></text>
<text y="436.52" font-size="13.89" fill="#0d0d0d"><tspan x="782.66" font-size="14.79" textLength="8.84" lengthAdjust="spacingAndGlyphs">2</tspan><tspan x="791.48" font-size="14.79" textLength="8.84" lengthAdjust="spacingAndGlyphs">0</tspan><tspan x="800.31" font-size="14.79" textLength="8.84" lengthAdjust="spacingAndGlyphs">2</tspan><tspan x="809.14" font-size="14.79" textLength="8.84" lengthAdjust="spacingAndGlyphs">5</tspan><tspan x="817.97" font-size="14.79" textLength="5.01" lengthAdjust="spacingAndGlyphs">-</tspan><tspan x="822.97" font-size="14.79" textLength="8.84" lengthAdjust="spacingAndGlyphs">1</tspan><tspan x="831.8" font-size="14.79" textLength="8.84" lengthAdjust="spacingAndGlyphs">0</tspan></text>
<text y="436.52" font-size="13.89" fill="#0d0d0d"><tspan x="891.89" font-size="14.79" textLength="8.84" lengthAdjust="spacingAndGlyphs">2</tspan><tspan x="900.47" font-size="14.79" textLength="8.84" lengthAdjust="spacingAndGlyphs">0</tspan><tspan x="909.3" font-size="14.79" textLength="8.84" lengthAdjust="spacingAndGlyphs">2</tspan><tspan x="918.13" font-size="14.79" textLength="8.84" lengthAdjust="spacingAndGlyphs">6</tspan><tspan x="926.95" font-size="14.79" textLength="5.01" lengthAdjust="spacingAndGlyphs">-</tspan><tspan x="931.96" font-size="14.79" textLength="8.84" lengthAdjust="spacingAndGlyphs">0</tspan><tspan x="940.79" font-size="14.79" textLength="8.84" lengthAdjust="spacingAndGlyphs">1</tspan></text>
<text y="421.55" font-size="13.89" fill="#0f0f0f"><tspan x="15.98" font-size="14.79" textLength="8.84" lengthAdjust="spacingAndGlyphs">1</tspan><tspan x="24.06" font-size="14.79" textLength="4.41" lengthAdjust="spacingAndGlyphs">.</tspan><tspan x="28.47" font-size="14.79" textLength="8.84" lengthAdjust="spacingAndGlyphs">0</tspan></text>
<text y="381.53" font-size="13.89" fill="#0f0f0f"><tspan x="15.98" font-size="14.79" textLength="8.84" lengthAdjust="spacingAndGlyphs">1</tspan><tspan x="24.31" font-size="14.79" textLength="4.41" lengthAdjust="spacingAndGlyphs">.</tspan><tspan x="28.72" font-size="14.79" textLength="8.84" lengthAdjust="spacingAndGlyphs">5</tspan></text>
<text y="341.5" font-size="13.89" fill="#0f0f0f"><tspan x="14.85" font-size="14.79" textLength="8.84" lengthAdjust="spacingAndGlyphs">2</tspan><tspan x="23.68" font-size="14.79" textLength="4.41" lengthAdjust="spacingAndGlyphs">.</tspan><tspan x="28.09" font-size="14.79" textLength="8.84" lengthAdjust="spacingAndGlyphs">0</tspan></text>
<text y="301.73" font-size="13.89" fill="#0f0f0f"><tspan x="14.85" font-size="14.79" textLength="8.84" lengthAdjust="spacingAndGlyphs">2</tspan><tspan x="23.43" font-size="14.79" textLength="4.41" lengthAdjust="spacingAndGlyphs">.</tspan><tspan x="27.84" font-size="14.79" textLength="8.84" lengthAdjust="spacingAndGlyphs">5</tspan></text>
<text y="262.7" font-size="13.89" fill="#0f0f0f"><tspan x="14.85" font-size="14.79" textLength="8.84" lengthAdjust="spacingAndGlyphs">3</tspan><tspan x="22.93" font-size="14.79" textLength="4.41" lengthAdjust="spacingAndGlyphs">.</tspan><tspan x="27.34" font-size="14.79" textLength="8.84" lengthAdjust="spacingAndGlyphs">0</tspan></text>
<text y="280.7" font-size="13.89" fill="#0f0f0f"><tspan x="97.59" font-size="14.79" textLength="8.84" lengthAdjust="spacingAndGlyphs">5</tspan><tspan x="105.92" font-size="14.44" textLength="8.22" lengthAdjust="spacingAndGlyphs">y</tspan><tspan x="114.13" font-size="14.44" textLength="8.54" lengthAdjust="spacingAndGlyphs">e</tspan><tspan x="122.66" font-size="14.44" textLength="8.51" lengthAdjust="spacingAndGlyphs">a</tspan><tspan x="131.17" font-size="14.44" textLength="5.72" lengthAdjust="spacingAndGlyphs">r</tspan><tspan x="136.87" font-size="14.79" textLength="5.42" lengthAdjust="spacingAndGlyphs">(</tspan><tspan x="142.28" font-size="14.79" textLength="8.84" lengthAdjust="spacingAndGlyphs">1</tspan><tspan x="151.11" font-size="14.79" textLength="4.41" lengthAdjust="spacingAndGlyphs">.</tspan><tspan x="155.52" font-size="14.79" textLength="8.84" lengthAdjust="spacingAndGlyphs">4</tspan><tspan x="164.35" font-size="14.79" textLength="8.84" lengthAdjust="spacingAndGlyphs">6</tspan><tspan x="173.18" font-size="14.79" textLength="5.42" lengthAdjust="spacingAndGlyphs">)</tspan></text>
<text y="301.64" font-size="13.89" fill="#0f0f0f"><tspan x="98.09" font-size="14.79" textLength="8.84" lengthAdjust="spacingAndGlyphs">7</tspan><tspan x="105.92" font-size="14.44" textLength="8.22" lengthAdjust="spacingAndGlyphs">y</tspan><tspan x="114.13" font-size="14.44" textLength="8.54" lengthAdjust="spacingAndGlyphs">e</tspan><tspan x="122.66" font-size="14.44" textLength="8.51" lengthAdjust="spacingAndGlyphs">a</tspan><tspan x="131.17" font-size="14.44" textLength="5.72" lengthAdjust="spacingAndGlyphs">r</tspan><tspan x="136.87" font-size="14.79" textLength="5.42" lengthAdjust="spacingAndGlyphs">(</tspan><tspan x="142.28" font-size="14.79" textLength="8.84" lengthAdjust="spacingAndGlyphs">1</tspan><tspan x="151.11" font-size="14.79" textLength="4.41" lengthAdjust="spacingAndGlyphs">.</tspan><tspan x="155.52" font-size="14.79" textLength="8.84" lengthAdjust="spacingAndGlyphs">7</tspan><tspan x="164.35" font-size="14.79" textLength="8.84" lengthAdjust="spacingAndGlyphs">0</tspan><tspan x="173.18" font-size="14.79" textLength="5.42" lengthAdjust="spacingAndGlyphs">)</tspan></text>
<text y="322.59" font-size="13.89" fill="#0f0f0f"><tspan x="99.09" font-size="14.79" textLength="8.84" lengthAdjust="spacingAndGlyphs">1</tspan><tspan x="106.92" font-size="14.79" textLength="8.84" lengthAdjust="spacingAndGlyphs">0</tspan><tspan x="115.74" font-size="14.44" textLength="8.22" lengthAdjust="spacingAndGlyphs">y</tspan><tspan x="123.96" font-size="14.44" textLength="8.54" lengthAdjust="spacingAndGlyphs">e</tspan><tspan x="132.49" font-size="14.44" textLength="8.51" lengthAdjust="spacingAndGlyphs">a</tspan><tspan x="140.99" font-size="14.44" textLength="5.72" lengthAdjust="spacingAndGlyphs">r</tspan><tspan x="146.7" font-size="14.79" textLength="5.42" lengthAdjust="spacingAndGlyphs">(</tspan><tspan x="152.11" font-size="14.79" textLength="8.84" lengthAdjust="spacingAndGlyphs">1</tspan><tspan x="160.94" font-size="14.79" textLength="4.41" lengthAdjust="spacingAndGlyphs">.</tspan><tspan x="165.35" font-size="14.79" textLength="8.84" lengthAdjust="spacingAndGlyphs">9</tspan><tspan x="174.18" font-size="14.79" textLength="8.84" lengthAdjust="spacingAndGlyphs">4</tspan><tspan x="183.01" font-size="14.79" textLength="5.42" lengthAdjust="spacingAndGlyphs">)</tspan></text>
<text y="343.53" font-size="13.89" fill="#0f0f0f"><tspan x="97.84" font-size="14.79" textLength="8.84" lengthAdjust="spacingAndGlyphs">2</tspan><tspan x="106.67" font-size="14.79" textLength="8.84" lengthAdjust="spacingAndGlyphs">0</tspan><tspan x="115.49" font-size="14.44" textLength="8.22" lengthAdjust="spacingAndGlyphs">y</tspan><tspan x="123.71" font-size="14.44" textLength="8.54" lengthAdjust="spacingAndGlyphs">e</tspan><tspan x="132.24" font-size="14.44" textLength="8.51" lengthAdjust="spacingAndGlyphs">a</tspan><tspan x="140.74" font-size="14.44" textLength="5.72" lengthAdjust="spacingAndGlyphs">r</tspan><tspan x="146.45" font-size="14.79" textLength="5.42" lengthAdjust="spacingAndGlyphs">(</tspan><tspan x="151.86" font-size="14.79" textLength="8.84" lengthAdjust="spacingAndGlyphs">2</tspan><tspan x="160.69" font-size="14.79" textLength="4.41" lengthAdjust="spacingAndGlyphs">.</tspan><tspan x="165.1" font-size="14.79" textLength="8.84" lengthAdjust="spacingAndGlyphs">4</tspan><tspan x="173.93" font-size="14.79" textLength="8.84" lengthAdjust="spacingAndGlyphs">0</tspan><tspan x="182.76" font-size="14.79" textLength="5.42" lengthAdjust="spacingAndGlyphs">)</tspan></text>
<text y="363.73" font-size="13.89" fill="#0f0f0f"><tspan x="97.84" font-size="14.79" textLength="8.84" lengthAdjust="spacingAndGlyphs">3</tspan><tspan x="105.67" font-size="14.79" textLength="8.84" lengthAdjust="spacingAndGlyphs">0</tspan><tspan x="114.49" font-size="14.44" textLength="8.22" lengthAdjust="spacingAndGlyphs">y</tspan><tspan x="122.71" font-size="14.44" textLength="8.54" lengthAdjust="spacingAndGlyphs">e</tspan><tspan x="131.24" font-size="14.44" textLength="8.51" lengthAdjust="spacingAndGlyphs">a</tspan><tspan x="139.74" font-size="14.44" textLength="5.72" lengthAdjust="spacingAndGlyphs">r</tspan><tspan x="145.45" font-size="14.79" textLength="5.42" lengthAdjust="spacingAndGlyphs">(</tspan><tspan x="150.86" font-size="14.79" textLength="8.84" lengthAdjust="spacingAndGlyphs">2</tspan><tspan x="159.69" font-size="14.79" textLength="4.41" lengthAdjust="spacingAndGlyphs">.</tspan><tspan x="164.1" font-size="14.79" textLength="8.84" lengthAdjust="spacingAndGlyphs">6</tspan><tspan x="172.93" font-size="14.79" textLength="8.84" lengthAdjust="spacingAndGlyphs">3</tspan><tspan x="181.76" font-size="14.79" textLength="5.42" lengthAdjust="spacingAndGlyphs">)</tspan></text>
<text y="436.52" font-size="13.89" fill="#0d0d0d"><tspan x="995.02" font-size="14.79" textLength="8.84" lengthAdjust="spacingAndGlyphs">0</tspan></text>
<text y="436.52" font-size="13.89" fill="#0d0d0d"><tspan x="1049.94" font-size="14.79" textLength="8.84" lengthAdjust="spacingAndGlyphs">1</tspan><tspan x="1058.02" font-size="14.79" textLength="8.84" lengthAdjust="spacingAndGlyphs">0</tspan></text>
<text y="436.52" font-size="13.89" fill="#0d0d0d"><tspan x="1107.85" font-size="14.79" textLength="8.84" lengthAdjust="spacingAndGlyphs">2</tspan><tspan x="1116.68" font-size="14.79" textLength="8.84" lengthAdjust="spacingAndGlyphs">0</tspan></text>
<text y="436.52" font-size="13.89" fill="#0d0d0d"><tspan x="1167.7" font-size="14.79" textLength="8.84" lengthAdjust="spacingAndGlyphs">3</tspan><tspan x="1176.03" font-size="14.79" textLength="8.84" lengthAdjust="spacingAndGlyphs">0</tspan></text>
<text y="421.55" font-size="13.89" fill="#0f0f0f"><tspan x="967.93" font-size="14.79" textLength="8.84" lengthAdjust="spacingAndGlyphs">1</tspan><tspan x="976.01" font-size="14.79" textLength="4.41" lengthAdjust="spacingAndGlyphs">.</tspan><tspan x="980.42" font-size="14.79" textLength="8.84" lengthAdjust="spacingAndGlyphs">0</tspan></text>
<text y="381.53" font-size="13.89" fill="#0f0f0f"><tspan x="967.93" font-size="14.79" textLength="8.84" lengthAdjust="spacingAndGlyphs">1</tspan><tspan x="976.26" font-size="14.79" textLength="4.41" lengthAdjust="spacingAndGlyphs">.</tspan><tspan x="980.67" font-size="14.79" textLength="8.84" lengthAdjust="spacingAndGlyphs">5</tspan></text>
<text y="341.5" font-size="13.89" fill="#0f0f0f"><tspan x="966.8" font-size="14.79" textLength="8.84" lengthAdjust="spacingAndGlyphs">2</tspan><tspan x="975.63" font-size="14.79" textLength="4.41" lengthAdjust="spacingAndGlyphs">.</tspan><tspan x="980.04" font-size="14.79" textLength="8.84" lengthAdjust="spacingAndGlyphs">0</tspan></text>
<text y="301.73" font-size="13.89" fill="#0f0f0f"><tspan x="966.8" font-size="14.79" textLength="8.84" lengthAdjust="spacingAndGlyphs">2</tspan><tspan x="975.63" font-size="14.79" textLength="4.41" lengthAdjust="spacingAndGlyphs">.</tspan><tspan x="980.04" font-size="14.79" textLength="8.84" lengthAdjust="spacingAndGlyphs">5</tspan></text>
<text y="262.7" font-size="13.89" fill="#0f0f0f"><tspan x="966.8" font-size="14.79" textLength="8.84" lengthAdjust="spacingAndGlyphs">3</tspan><tspan x="974.88" font-size="14.79" textLength="4.41" lengthAdjust="spacingAndGlyphs">.</tspan><tspan x="979.29" font-size="14.79" textLength="8.84" lengthAdjust="spacingAndGlyphs">0</tspan></text>
<text y="379.61" font-size="13.89" fill="#0f0f0f"><tspan x="1095.08" font-size="14.44" textLength="8.22" lengthAdjust="spacingAndGlyphs">y</tspan><tspan x="1102.29" font-size="14.44" textLength="8.54" lengthAdjust="spacingAndGlyphs">e</tspan><tspan x="1110.82" font-size="14.44" textLength="7.24" lengthAdjust="spacingAndGlyphs">s</tspan><tspan x="1118.36" font-size="14.44" textLength="4.82" lengthAdjust="spacingAndGlyphs">t</tspan><tspan x="1123.49" font-size="14.44" textLength="8.54" lengthAdjust="spacingAndGlyphs">e</tspan><tspan x="1132.03" font-size="14.44" textLength="5.72" lengthAdjust="spacingAndGlyphs">r</tspan><tspan x="1137.48" font-size="14.44" textLength="8.82" lengthAdjust="spacingAndGlyphs">d</tspan><tspan x="1146.29" font-size="14.44" textLength="8.51" lengthAdjust="spacingAndGlyphs">a</tspan><tspan x="1154.79" font-size="14.44" textLength="8.22" lengthAdjust="spacingAndGlyphs">y</tspan></text>
<text y="400.55" font-size="13.89" fill="#0f0f0f"><tspan x="1094.89" font-size="14.44" textLength="4.82" lengthAdjust="spacingAndGlyphs">t</tspan><tspan x="1099.52" font-size="14.44" textLength="8.5" lengthAdjust="spacingAndGlyphs">o</tspan><tspan x="1108" font-size="14.44" textLength="8.82" lengthAdjust="spacingAndGlyphs">d</tspan><tspan x="1116.81" font-size="14.44" textLength="8.51" lengthAdjust="spacingAndGlyphs">a</tspan><tspan x="1125.31" font-size="14.44" textLength="8.22" lengthAdjust="spacingAndGlyphs">y</tspan></text>
<text y="468.62" font-size="16.67" fill="#080808"><tspan x="370.09" font-size="17.67" textLength="11.43" lengthAdjust="spacingAndGlyphs">B</tspan><tspan x="381.17" font-size="17.67" textLength="11.74" lengthAdjust="spacingAndGlyphs">R</tspan><tspan x="392.65" font-size="17.67" textLength="10.84" lengthAdjust="spacingAndGlyphs">E</tspan><tspan x="403.31" font-size="17.67" textLength="11.4" lengthAdjust="spacingAndGlyphs">A</tspan><tspan x="414.68" font-size="17.67" textLength="11.28" lengthAdjust="spacingAndGlyphs">K</tspan><tspan x="425.43" font-size="17.67" textLength="10.84" lengthAdjust="spacingAndGlyphs">E</tspan><tspan x="436.09" font-size="17.67" textLength="11.4" lengthAdjust="spacingAndGlyphs">V</tspan><tspan x="447.3" font-size="17.67" textLength="10.84" lengthAdjust="spacingAndGlyphs">E</tspan><tspan x="457.96" font-size="17.67" textLength="12.47" lengthAdjust="spacingAndGlyphs">N</tspan> <tspan x="475.68" font-size="17.67" textLength="4.91" lengthAdjust="spacingAndGlyphs">I</tspan><tspan x="480.59" font-size="17.67" textLength="12.47" lengthAdjust="spacingAndGlyphs">N</tspan><tspan x="492.85" font-size="17.67" textLength="9.93" lengthAdjust="spacingAndGlyphs">F</tspan><tspan x="502.59" font-size="17.67" textLength="9.29" lengthAdjust="spacingAndGlyphs">L</tspan><tspan x="512.22" font-size="17.67" textLength="11.4" lengthAdjust="spacingAndGlyphs">A</tspan><tspan x="522.3" font-size="17.67" textLength="10.28" lengthAdjust="spacingAndGlyphs">T</tspan><tspan x="532.5" font-size="17.67" textLength="4.91" lengthAdjust="spacingAndGlyphs">I</tspan><tspan x="537.4" font-size="17.67" textLength="13.11" lengthAdjust="spacingAndGlyphs">O</tspan><tspan x="550.49" font-size="17.67" textLength="12.47" lengthAdjust="spacingAndGlyphs">N</tspan> <tspan x="568.13" font-size="17.67" textLength="11.74" lengthAdjust="spacingAndGlyphs">R</tspan><tspan x="579.14" font-size="17.67" textLength="11.4" lengthAdjust="spacingAndGlyphs">A</tspan><tspan x="589.21" font-size="17.67" textLength="10.28" lengthAdjust="spacingAndGlyphs">T</tspan><tspan x="599.26" font-size="17.67" textLength="10.84" lengthAdjust="spacingAndGlyphs">E</tspan></text>
<text y="656.52" font-size="13.89" fill="#0d0d0d"><tspan x="26.72" font-size="14.79" textLength="8.84" lengthAdjust="spacingAndGlyphs">2</tspan><tspan x="35.55" font-size="14.79" textLength="8.84" lengthAdjust="spacingAndGlyphs">0</tspan><tspan x="44.38" font-size="14.79" textLength="8.84" lengthAdjust="spacingAndGlyphs">2</tspan><tspan x="53.21" font-size="14.79" textLength="8.84" lengthAdjust="spacingAndGlyphs">4</tspan><tspan x="62.04" font-size="14.79" textLength="5.01" lengthAdjust="spacingAndGlyphs">-</tspan><tspan x="67.04" font-size="14.79" textLength="8.84" lengthAdjust="spacingAndGlyphs">0</tspan><tspan x="75.87" font-size="14.79" textLength="8.84" lengthAdjust="spacingAndGlyphs">1</tspan></text>
<text y="656.52" font-size="13.89" fill="#0d0d0d"><tspan x="134.65" font-size="14.79" textLength="8.84" lengthAdjust="spacingAndGlyphs">2</tspan><tspan x="143.48" font-size="14.79" textLength="8.84" lengthAdjust="spacingAndGlyphs">0</tspan><tspan x="152.31" font-size="14.79" textLength="8.84" lengthAdjust="spacingAndGlyphs">2</tspan><tspan x="161.14" font-size="14.79" textLength="8.84" lengthAdjust="spacingAndGlyphs">4</tspan><tspan x="169.96" font-size="14.79" textLength="5.01" lengthAdjust="spacingAndGlyphs">-</tspan><tspan x="174.97" font-size="14.79" textLength="8.84" lengthAdjust="spacingAndGlyphs">0</tspan><tspan x="183.8" font-size="14.79" textLength="8.84" lengthAdjust="spacingAndGlyphs">4</tspan></text>
<text y="656.52" font-size="13.89" fill="#0d0d0d"><tspan x="242.77" font-size="14.79" textLength="8.84" lengthAdjust="spacingAndGlyphs">2</tspan><tspan x="251.6" font-size="14.79" textLength="8.84" lengthAdjust="spacingAndGlyphs">0</tspan><tspan x="260.43" font-size="14.79" textLength="8.84" lengthAdjust="spacingAndGlyphs">2</tspan><tspan x="269.25" font-size="14.79" textLength="8.84" lengthAdjust="spacingAndGlyphs">4</tspan><tspan x="278.08" font-size="14.79" textLength="5.01" lengthAdjust="spacingAndGlyphs">-</tspan><tspan x="283.09" font-size="14.79" textLength="8.84" lengthAdjust="spacingAndGlyphs">0</tspan><tspan x="291.92" font-size="14.79" textLength="8.84" lengthAdjust="spacingAndGlyphs">7</tspan></text>
<text y="656.52" font-size="13.89" fill="#0d0d0d"><tspan x="351.76" font-size="14.79" textLength="8.84" lengthAdjust="spacingAndGlyphs">2</tspan><tspan x="360.34" font-size="14.79" textLength="8.84" lengthAdjust="spacingAndGlyphs">0</tspan><tspan x="369.16" font-size="14.79" textLength="8.84" lengthAdjust="spacingAndGlyphs">2</tspan><tspan x="377.99" font-size="14.79" textLength="8.84" lengthAdjust="spacingAndGlyphs">4</tspan><tspan x="386.82" font-size="14.79" textLength="5.01" lengthAdjust="spacingAndGlyphs">-</tspan><tspan x="391.82" font-size="14.79" textLength="8.84" lengthAdjust="spacingAndGlyphs">1</tspan><tspan x="400.65" font-size="14.79" textLength="8.84" lengthAdjust="spacingAndGlyphs">0</tspan></text>
<text y="656.52" font-size="13.89" fill="#0d0d0d"><tspan x="459.81" font-size="14.79" textLength="8.84" lengthAdjust="spacingAndGlyphs">2</tspan><tspan x="468.63" font-size="14.79" textLength="8.84" lengthAdjust="spacingAndGlyphs">0</tspan><tspan x="477.46" font-size="14.79" textLength="8.84" lengthAdjust="spacingAndGlyphs">2</tspan><tspan x="486.29" font-size="14.79" textLength="8.84" lengthAdjust="spacingAndGlyphs">5</tspan><tspan x="495.12" font-size="14.79" textLength="5.01" lengthAdjust="spacingAndGlyphs">-</tspan><tspan x="500.12" font-size="14.79" textLength="8.84" lengthAdjust="spacingAndGlyphs">0</tspan><tspan x="508.95" font-size="14.79" textLength="8.84" lengthAdjust="spacingAndGlyphs">1</tspan></text>
<text y="656.52" font-size="13.89" fill="#0d0d0d"><tspan x="566.8" font-size="14.79" textLength="8.84" lengthAdjust="spacingAndGlyphs">2</tspan><tspan x="575.38" font-size="14.79" textLength="8.84" lengthAdjust="spacingAndGlyphs">0</tspan><tspan x="584.21" font-size="14.79" textLength="8.84" lengthAdjust="spacingAndGlyphs">2</tspan><tspan x="593.04" font-size="14.79" textLength="8.84" lengthAdjust="spacingAndGlyphs">5</tspan><tspan x="601.86" font-size="14.79" textLength="5.01" lengthAdjust="spacingAndGlyphs">-</tspan><tspan x="606.87" font-size="14.79" textLength="8.84" lengthAdjust="spacingAndGlyphs">0</tspan><tspan x="615.7" font-size="14.79" textLength="8.84" lengthAdjust="spacingAndGlyphs">4</tspan></text>
<text y="656.52" font-size="13.89" fill="#0d0d0d"><tspan x="673.67" font-size="14.79" textLength="8.84" lengthAdjust="spacingAndGlyphs">2</tspan><tspan x="682.5" font-size="14.79" textLength="8.84" lengthAdjust="spacingAndGlyphs">0</tspan><tspan x="691.33" font-size="14.79" textLength="8.84" lengthAdjust="spacingAndGlyphs">2</tspan><tspan x="700.15" font-size="14.79" textLength="8.84" lengthAdjust="spacingAndGlyphs">5</tspan><tspan x="708.98" font-size="14.79" textLength="5.01" lengthAdjust="spacingAndGlyphs">-</tspan><tspan x="713.99" font-size="14.79" textLength="8.84" lengthAdjust="spacingAndGlyphs">0</tspan><tspan x="722.81" font-size="14.79" textLength="8.84" lengthAdjust="spacingAndGlyphs">7</tspan></text>
<text y="656.52" font-size="13.89" fill="#0d0d0d"><tspan x="782.66" font-size="14.79" textLength="8.84" lengthAdjust="spacingAndGlyphs">2</tspan><tspan x="791.48" font-size="14.79" textLength="8.84" lengthAdjust="spacingAndGlyphs">0</tspan><tspan x="800.31" font-size="14.79" textLength="8.84" lengthAdjust="spacingAndGlyphs">2</tspan><tspan x="809.14" font-size="14.79" textLength="8.84" lengthAdjust="spacingAndGlyphs">5</tspan><tspan x="817.97" font-size="14.79" textLength="5.01" lengthAdjust="spacingAndGlyphs">-</tspan><tspan x="822.97" font-size="14.79" textLength="8.84" lengthAdjust="spacingAndGlyphs">1</tspan><tspan x="831.8" font-size="14.79" textLength="8.84" lengthAdjust="spacingAndGlyphs">0</tspan></text>
<text y="656.52" font-size="13.89" fill="#0d0d0d"><tspan x="891.89" font-size="14.79" textLength="8.84" lengthAdjust="spacingAndGlyphs">2</tspan><tspan x="900.47" font-size="14.79" textLength="8.84" lengthAdjust="spacingAndGlyphs">0</tspan><tspan x="909.3" font-size="14.79" textLength="8.84" lengthAdjust="spacingAndGlyphs">2</tspan><tspan x="918.13" font-size="14.79" textLength="8.84" lengthAdjust="spacingAndGlyphs">6</tspan><tspan x="926.95" font-size="14.79" textLength="5.01" lengthAdjust="spacingAndGlyphs">-</tspan><tspan x="931.96" font-size="14.79" textLength="8.84" lengthAdjust="spacingAndGlyphs">0</tspan><tspan x="940.79" font-size="14.79" textLength="8.84" lengthAdjust="spacingAndGlyphs">1</tspan></text>
<text y="641.55" font-size="13.89" fill="#0f0f0f"><tspan x="15.98" font-size="14.79" textLength="8.84" lengthAdjust="spacingAndGlyphs">1</tspan><tspan x="24.06" font-size="14.79" textLength="4.41" lengthAdjust="spacingAndGlyphs">.</tspan><tspan x="28.47" font-size="14.79" textLength="8.84" lengthAdjust="spacingAndGlyphs">0</tspan></text>
<text y="601.52" font-size="13.89" fill="#0f0f0f"><tspan x="15.98" font-size="14.79" textLength="8.84" lengthAdjust="spacingAndGlyphs">1</tspan><tspan x="24.31" font-size="14.79" textLength="4.41" lengthAdjust="spacingAndGlyphs">.</tspan><tspan x="28.72" font-size="14.79" textLength="8.84" lengthAdjust="spacingAndGlyphs">5</tspan></text>
<text y="561.5" font-size="13.89" fill="#0f0f0f"><tspan x="14.85" font-size="14.79" textLength="8.84" lengthAdjust="spacingAndGlyphs">2</tspan><tspan x="23.68" font-size="14.79" textLength="4.41" lengthAdjust="spacingAndGlyphs">.</tspan><tspan x="28.09" font-size="14.79" textLength="8.84" lengthAdjust="spacingAndGlyphs">0</tspan></text>
<text y="521.73" font-size="13.89" fill="#0f0f0f"><tspan x="14.85" font-size="14.79" textLength="8.84" lengthAdjust="spacingAndGlyphs">2</tspan><tspan x="23.43" font-size="14.79" textLength="4.41" lengthAdjust="spacingAndGlyphs">.</tspan><tspan x="27.84" font-size="14.79" textLength="8.84" lengthAdjust="spacingAndGlyphs">5</tspan></text>
<text y="482.7" font-size="13.89" fill="#0f0f0f"><tspan x="14.85" font-size="14.79" textLength="8.84" lengthAdjust="spacingAndGlyphs">3</tspan><tspan x="22.93" font-size="14.79" textLength="4.41" lengthAdjust="spacingAndGlyphs">.</tspan><tspan x="27.34" font-size="14.79" textLength="8.84" lengthAdjust="spacingAndGlyphs">0</tspan></text>
<text y="500.7" font-size="13.89" fill="#0f0f0f"><tspan x="97.59" font-size="14.79" textLength="8.84" lengthAdjust="spacingAndGlyphs">5</tspan><tspan x="105.92" font-size="14.44" textLength="8.22" lengthAdjust="spacingAndGlyphs">y</tspan><tspan x="114.13" font-size="14.44" textLength="8.54" lengthAdjust="spacingAndGlyphs">e</tspan><tspan x="122.66" font-size="14.44" textLength="8.51" lengthAdjust="spacingAndGlyphs">a</tspan><tspan x="131.17" font-size="14.44" textLength="5.72" lengthAdjust="spacingAndGlyphs">r</tspan><tspan x="136.87" font-size="14.79" textLength="5.42" lengthAdjust="spacingAndGlyphs">(</tspan><tspan x="142.28" font-size="14.79" textLength="8.84" lengthAdjust="spacingAndGlyphs">2</tspan><tspan x="151.11" font-size="14.79" textLength="4.41" lengthAdjust="spacingAndGlyphs">.</tspan><tspan x="155.52" font-size="14.79" textLength="8.84" lengthAdjust="spacingAndGlyphs">2</tspan><tspan x="164.35" font-size="14.79" textLength="8.84" lengthAdjust="spacingAndGlyphs">5</tspan><tspan x="173.18" font-size="14.79" textLength="5.42" lengthAdjust="spacingAndGlyphs">)</tspan></text>
<text y="521.64" font-size="13.89" fill="#0f0f0f"><tspan x="98.09" font-size="14.79" textLength="8.84" lengthAdjust="spacingAndGlyphs">7</tspan><tspan x="105.92" font-size="14.44" textLength="8.22" lengthAdjust="spacingAndGlyphs">y</tspan><tspan x="114.13" font-size="14.44" textLength="8.54" lengthAdjust="spacingAndGlyphs">e</tspan><tspan x="122.66" font-size="14.44" textLength="8.51" lengthAdjust="spacingAndGlyphs">a</tspan><tspan x="131.17" font-size="14.44" textLength="5.72" lengthAdjust="spacingAndGlyphs">r</tspan><tspan x="136.87" font-size="14.79" textLength="5.42" lengthAdjust="spacingAndGlyphs">(</tspan><tspan x="142.28" font-size="14.79" textLength="8.84" lengthAdjust="spacingAndGlyphs">2</tspan><tspan x="151.11" font-size="14.79" textLength="4.41" lengthAdjust="spacingAndGlyphs">.</tspan><tspan x="155.52" font-size="14.79" textLength="8.84" lengthAdjust="spacingAndGlyphs">2</tspan><tspan x="164.35" font-size="14.79" textLength="8.84" lengthAdjust="spacingAndGlyphs">3</tspan><tspan x="173.18" font-size="14.79" textLength="5.42" lengthAdjust="spacingAndGlyphs">)</tspan></text>
<text y="542.59" font-size="13.89" fill="#0f0f0f"><tspan x="99.09" font-size="14.79" textLength="8.84" lengthAdjust="spacingAndGlyphs">1</tspan><tspan x="106.92" font-size="14.79" textLength="8.84" lengthAdjust="spacingAndGlyphs">0</tspan><tspan x="115.74" font-size="14.44" textLength="8.22" lengthAdjust="spacingAndGlyphs">y</tspan><tspan x="123.96" font-size="14.44" textLength="8.54" lengthAdjust="spacingAndGlyphs">e</tspan><tspan x="132.49" font-size="14.44" textLength="8.51" lengthAdjust="spacingAndGlyphs">a</tspan><tspan x="140.99" font-size="14.44" textLength="5.72" lengthAdjust="spacingAndGlyphs">r</tspan><tspan x="146.7" font-size="14.79" textLength="5.42" lengthAdjust="spacingAndGlyphs">(</tspan><tspan x="152.11" font-size="14.79" textLength="8.84" lengthAdjust="spacingAndGlyphs">2</tspan><tspan x="160.94" font-size="14.79" textLength="4.41" lengthAdjust="spacingAndGlyphs">.</tspan><tspan x="165.35" font-size="14.79" textLength="8.84" lengthAdjust="spacingAndGlyphs">2</tspan><tspan x="174.18" font-size="14.79" textLength="8.84" lengthAdjust="spacingAndGlyphs">3</tspan><tspan x="183.01" font-size="14.79" textLength="5.42" lengthAdjust="spacingAndGlyphs">)</tspan></text>
<text y="563.53" font-size="13.89" fill="#0f0f0f"><tspan x="97.84" font-size="14.79" textLength="8.84" lengthAdjust="spacingAndGlyphs">2</tspan><tspan x="106.67" font-size="14.79" textLength="8.84" lengthAdjust="spacingAndGlyphs">0</tspan><tspan x="115.49" font-size="14.44" textLength="8.22" lengthAdjust="spacingAndGlyphs">y</tspan><tspan x="123.71" font-size="14.44" textLength="8.54" lengthAdjust="spacingAndGlyphs">e</tspan><tspan x="132.24" font-size="14.44" textLength="8.51" lengthAdjust="spacingAndGlyphs">a</tspan><tspan x="140.74" font-size="14.44" textLength="5.72" lengthAdjust="spacingAndGlyphs">r</tspan><tspan x="146.45" font-size="14.79" textLength="5.42" lengthAdjust="spacingAndGlyphs">(</tspan><tspan x="151.86" font-size="14.79" textLength="8.84" lengthAdjust="spacingAndGlyphs">2</tspan><tspan x="160.69" font-size="14.79" textLength="4.41" lengthAdjust="spacingAndGlyphs">.</tspan><tspan x="165.1" font-size="14.79" textLength="8.84" lengthAdjust="spacingAndGlyphs">3</tspan><tspan x="173.93" font-size="14.79" textLength="8.84" lengthAdjust="spacingAndGlyphs">8</tspan><tspan x="182.76" font-size="14.79" textLength="5.42" lengthAdjust="spacingAndGlyphs">)</tspan></text>
<text y="583.73" font-size="13.89" fill="#0f0f0f"><tspan x="97.84" font-size="14.79" textLength="8.84" lengthAdjust="spacingAndGlyphs">3</tspan><tspan x="105.67" font-size="14.79" textLength="8.84" lengthAdjust="spacingAndGlyphs">0</tspan><tspan x="114.49" font-size="14.44" textLength="8.22" lengthAdjust="spacingAndGlyphs">y</tspan><tspan x="122.71" font-size="14.44" textLength="8.54" lengthAdjust="spacingAndGlyphs">e</tspan><tspan x="131.24" font-size="14.44" textLength="8.51" lengthAdjust="spacingAndGlyphs">a</tspan><tspan x="139.74" font-size="14.44" textLength="5.72" lengthAdjust="spacingAndGlyphs">r</tspan><tspan x="145.45" font-size="14.79" textLength="5.42" lengthAdjust="spacingAndGlyphs">(</tspan><tspan x="150.86" font-size="14.79" textLength="8.84" lengthAdjust="spacingAndGlyphs">2</tspan><tspan x="159.69" font-size="14.79" textLength="4.41" lengthAdjust="spacingAndGlyphs">.</tspan><tspan x="164.1" font-size="14.79" textLength="8.84" lengthAdjust="spacingAndGlyphs">2</tspan><tspan x="172.93" font-size="14.79" textLength="8.84" lengthAdjust="spacingAndGlyphs">1</tspan><tspan x="181.76" font-size="14.79" textLength="5.42" lengthAdjust="spacingAndGlyphs">)</tspan></text>
<text y="656.52" font-size="13.89" fill="#0d0d0d"><tspan x="995.02" font-size="14.79" textLength="8.84" lengthAdjust="spacingAndGlyphs">0</tspan></text>
<text y="656.52" font-size="13.89" fill="#0d0d0d"><tspan x="1049.94" font-size="14.79" textLength="8.84" lengthAdjust="spacingAndGlyphs">1</tspan><tspan x="1058.02" font-size="14.79" textLength="8.84" lengthAdjust="spacingAndGlyphs">0</tspan></text>
<text y="656.52" font-size="13.89" fill="#0d0d0d"><tspan x="1107.85" font-size="14.79" textLength="8.84" lengthAdjust="spacingAndGlyphs">2</tspan><tspan x="1116.68" font-size="14.79" textLength="8.84" lengthAdjust="spacingAndGlyphs">0</tspan></text>
<text y="656.52" font-size="13.89" fill="#0d0d0d"><tspan x="1167.7" font-size="14.79" textLength="8.84" lengthAdjust="spacingAndGlyphs">3</tspan><tspan x="1176.03" font-size="14.79" textLength="8.84" lengthAdjust="spacingAndGlyphs">0</tspan></text>
<text y="641.55" font-size="13.89" fill="#0f0f0f"><tspan x="967.93" font-size="14.79" textLength="8.84" lengthAdjust="spacingAndGlyphs">1</tspan><tspan x="976.01" font-size="14.79" textLength="4.41" lengthAdjust="spacingAndGlyphs">.</tspan><tspan x="980.42" font-size="14.79" textLength="8.84" lengthAdjust="spacingAndGlyphs">0</tspan></text>
<text y="601.52" font-size="13.89" fill="#0f0f0f"><tspan x="967.93" font-size="14.79" textLength="8.84" lengthAdjust="spacingAndGlyphs">1</tspan><tspan x="976.26" font-size="14.79" textLength="4.41" lengthAdjust="spacingAndGlyphs">.</tspan><tspan x="980.67" font-size="14.79" textLength="8.84" lengthAdjust="spacingAndGlyphs">5</tspan></text>
<text y="561.5" font-size="13.89" fill="#0f0f0f"><tspan x="966.8" font-size="14.79" textLength="8.84" lengthAdjust="spacingAndGlyphs">2</tspan><tspan x="975.63" font-size="14.79" textLength="4.41" lengthAdjust="spacingAndGlyphs">.</tspan><tspan x="980.04" font-size="14.79" textLength="8.84" lengthAdjust="spacingAndGlyphs">0</tspan></text>
<text y="521.73" font-size="13.89" fill="#0f0f0f"><tspan x="966.8" font-size="14.79" textLength="8.84" lengthAdjust="spacingAndGlyphs">2</tspan><tspan x="975.63" font-size="14.79" textLength="4.41" lengthAdjust="spacingAndGlyphs">.</tspan><tspan x="980.04" font-size="14.79" textLength="8.84" lengthAdjust="spacingAndGlyphs">5</tspan></text>
<text y="482.7" font-size="13.89" fill="#0f0f0f"><tspan x="966.8" font-size="14.79" textLength="8.84" lengthAdjust="spacingAndGlyphs">3</tspan><tspan x="974.88" font-size="14.79" textLength="4.41" lengthAdjust="spacingAndGlyphs">.</tspan><tspan x="979.29" font-size="14.79" textLength="8.84" lengthAdjust="spacingAndGlyphs">0</tspan></text>
<text y="599.61" font-size="13.89" fill="#0f0f0f"><tspan x="1051.04" font-size="14.44" textLength="8.22" lengthAdjust="spacingAndGlyphs">y</tspan><tspan x="1058.25" font-size="14.44" textLength="8.54" lengthAdjust="spacingAndGlyphs">e</tspan><tspan x="1066.79" font-size="14.44" textLength="7.24" lengthAdjust="spacingAndGlyphs">s</tspan><tspan x="1074.33" font-size="14.44" textLength="4.82" lengthAdjust="spacingAndGlyphs">t</tspan><tspan x="1079.46" font-size="14.44" textLength="8.54" lengthAdjust="spacingAndGlyphs">e</tspan><tspan x="1087.99" font-size="14.44" textLength="5.72" lengthAdjust="spacingAndGlyphs">r</tspan><tspan x="1093.45" font-size="14.44" textLength="8.82" lengthAdjust="spacingAndGlyphs">d</tspan><tspan x="1102.25" font-size="14.44" textLength="8.51" lengthAdjust="spacingAndGlyphs">a</tspan><tspan x="1110.76" font-size="14.44" textLength="8.22" lengthAdjust="spacingAndGlyphs">y</tspan></text>
<text y="620.55" font-size="13.89" fill="#0f0f0f"><tspan x="1050.85" font-size="14.44" textLength="4.82" lengthAdjust="spacingAndGlyphs">t</tspan><tspan x="1055.48" font-size="14.44" textLength="8.5" lengthAdjust="spacingAndGlyphs">o</tspan><tspan x="1063.97" font-size="14.44" textLength="8.82" lengthAdjust="spacingAndGlyphs">d</tspan><tspan x="1072.78" font-size="14.44" textLength="8.51" lengthAdjust="spacingAndGlyphs">a</tspan><tspan x="1081.28" font-size="14.44" textLength="8.22" lengthAdjust="spacingAndGlyphs">y</tspan></text>
</g>
</svg>
</body></html>
